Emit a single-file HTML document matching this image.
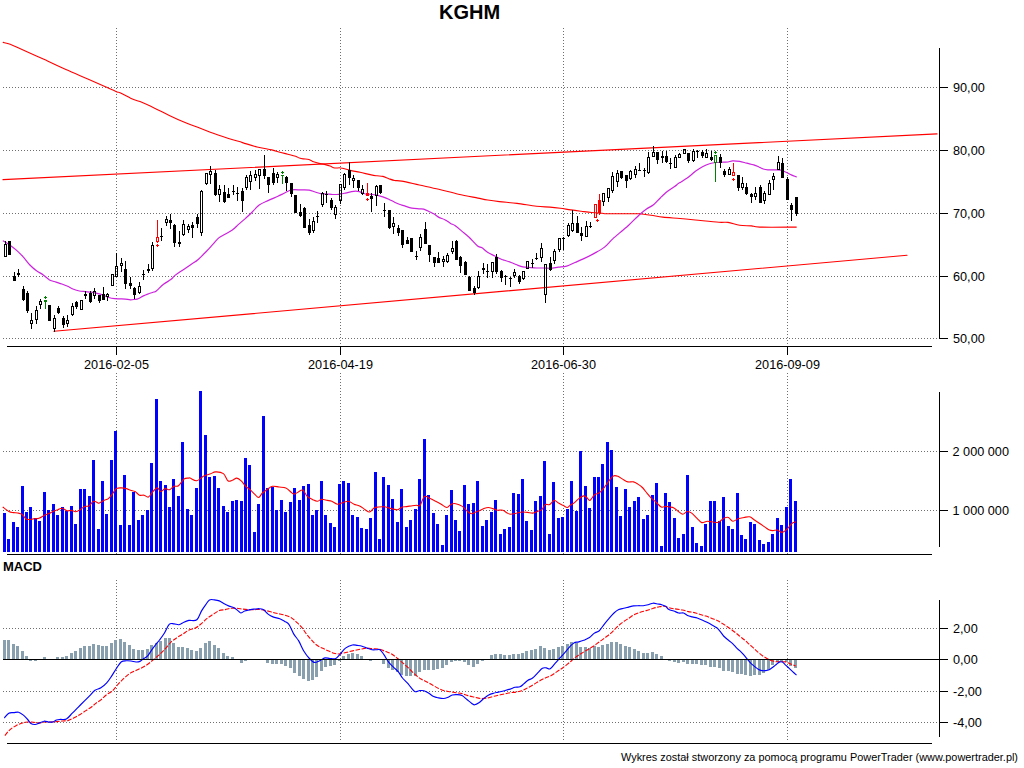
<!DOCTYPE html>
<html><head><meta charset="utf-8"><title>KGHM</title>
<style>html,body{margin:0;padding:0;background:#fff;width:1024px;height:768px;overflow:hidden}</style>
</head><body>
<svg width="1024" height="768" viewBox="0 0 1024 768" style="position:absolute;left:0;top:0">
<rect width="1024" height="768" fill="#fff"/>
<g shape-rendering="crispEdges">
<line x1="3" y1="87.5" x2="938" y2="87.5" stroke="#6e6e6e" stroke-width="1" stroke-dasharray="1 2"/>
<line x1="3" y1="150.5" x2="938" y2="150.5" stroke="#6e6e6e" stroke-width="1" stroke-dasharray="1 2"/>
<line x1="3" y1="213.5" x2="938" y2="213.5" stroke="#6e6e6e" stroke-width="1" stroke-dasharray="1 2"/>
<line x1="3" y1="276.5" x2="938" y2="276.5" stroke="#6e6e6e" stroke-width="1" stroke-dasharray="1 2"/>
<line x1="3" y1="338.5" x2="938" y2="338.5" stroke="#6e6e6e" stroke-width="1" stroke-dasharray="1 2"/>
<line x1="116.5" y1="28" x2="116.5" y2="346" stroke="#6e6e6e" stroke-width="1" stroke-dasharray="1 2"/>
<line x1="116.5" y1="373" x2="116.5" y2="554" stroke="#6e6e6e" stroke-width="1" stroke-dasharray="1 2"/>
<line x1="340.5" y1="28" x2="340.5" y2="346" stroke="#6e6e6e" stroke-width="1" stroke-dasharray="1 2"/>
<line x1="340.5" y1="373" x2="340.5" y2="554" stroke="#6e6e6e" stroke-width="1" stroke-dasharray="1 2"/>
<line x1="563.5" y1="28" x2="563.5" y2="346" stroke="#6e6e6e" stroke-width="1" stroke-dasharray="1 2"/>
<line x1="563.5" y1="373" x2="563.5" y2="554" stroke="#6e6e6e" stroke-width="1" stroke-dasharray="1 2"/>
<line x1="787.5" y1="28" x2="787.5" y2="346" stroke="#6e6e6e" stroke-width="1" stroke-dasharray="1 2"/>
<line x1="787.5" y1="373" x2="787.5" y2="554" stroke="#6e6e6e" stroke-width="1" stroke-dasharray="1 2"/>
<line x1="3" y1="451.5" x2="938" y2="451.5" stroke="#6e6e6e" stroke-width="1" stroke-dasharray="1 2"/>
<line x1="3" y1="510.5" x2="938" y2="510.5" stroke="#6e6e6e" stroke-width="1" stroke-dasharray="1 2"/>
<line x1="116.5" y1="580" x2="116.5" y2="741" stroke="#6e6e6e" stroke-width="1" stroke-dasharray="1 2"/>
<line x1="340.5" y1="580" x2="340.5" y2="741" stroke="#6e6e6e" stroke-width="1" stroke-dasharray="1 2"/>
<line x1="563.5" y1="580" x2="563.5" y2="741" stroke="#6e6e6e" stroke-width="1" stroke-dasharray="1 2"/>
<line x1="787.5" y1="580" x2="787.5" y2="741" stroke="#6e6e6e" stroke-width="1" stroke-dasharray="1 2"/>
<line x1="3" y1="628.5" x2="938" y2="628.5" stroke="#6e6e6e" stroke-width="1" stroke-dasharray="1 2"/>
<line x1="3" y1="691.5" x2="938" y2="691.5" stroke="#6e6e6e" stroke-width="1" stroke-dasharray="1 2"/>
<line x1="3" y1="722.5" x2="938" y2="722.5" stroke="#6e6e6e" stroke-width="1" stroke-dasharray="1 2"/>
</g>
<g fill="none" stroke-linecap="round">
<path d="M3.20,42.40 C4.37,42.72 7.07,43.12 10.20,44.30 C13.33,45.48 16.38,47.00 22.00,49.50 C27.62,52.00 36.58,55.97 43.90,59.30 C51.22,62.63 58.58,66.22 65.90,69.50 C73.22,72.78 81.22,76.12 87.80,79.00 C94.38,81.88 100.52,84.65 105.40,86.80 C110.28,88.95 114.67,90.92 117.10,91.90 C119.53,92.88 117.55,91.55 120.00,92.70 C122.45,93.85 128.47,97.32 131.80,98.80 C135.13,100.28 136.20,100.03 140.00,101.60 C143.80,103.17 149.72,105.88 154.60,108.20 C159.48,110.52 164.42,113.18 169.30,115.50 C174.18,117.82 179.52,120.27 183.90,122.10 C188.28,123.93 191.20,124.80 195.60,126.50 C200.00,128.20 204.93,130.35 210.30,132.30 C215.67,134.25 222.43,136.48 227.80,138.20 C233.17,139.92 237.62,141.13 242.50,142.60 C247.38,144.07 252.22,145.78 257.10,147.00 C261.98,148.22 267.98,149.03 271.80,149.90 C275.62,150.77 277.33,151.48 280.00,152.20 C282.67,152.92 285.20,153.52 287.80,154.20 C290.40,154.88 293.65,155.65 295.60,156.30 C297.55,156.95 298.20,157.67 299.50,158.10 C300.80,158.53 301.83,158.67 303.40,158.90 C304.97,159.13 307.20,159.02 308.90,159.50 C310.60,159.98 311.92,161.15 313.60,161.80 C315.28,162.45 317.18,162.97 319.00,163.40 C320.82,163.83 322.67,163.95 324.50,164.40 C326.33,164.85 328.30,165.50 330.00,166.10 C331.70,166.70 333.13,167.72 334.70,168.00 C336.27,168.28 338.10,167.75 339.40,167.80 C340.70,167.85 340.68,167.87 342.50,168.30 C344.32,168.73 347.38,169.73 350.30,170.40 C353.22,171.07 356.52,171.55 360.00,172.30 C363.48,173.05 368.37,174.32 371.20,174.90 C374.03,175.48 375.05,175.55 377.00,175.80 C378.95,176.05 380.93,175.92 382.90,176.40 C384.87,176.88 386.85,178.02 388.80,178.70 C390.75,179.38 392.45,180.10 394.60,180.50 C396.75,180.90 397.58,180.35 401.70,181.10 C405.82,181.85 413.12,183.63 419.30,185.00 C425.48,186.37 432.28,187.77 438.80,189.30 C445.32,190.83 451.88,192.73 458.40,194.20 C464.92,195.67 473.02,197.13 477.90,198.10 C482.78,199.07 484.12,199.42 487.70,200.00 C491.28,200.58 494.52,201.03 499.40,201.60 C504.28,202.17 510.82,202.62 517.00,203.40 C523.18,204.18 531.00,205.68 536.50,206.30 C542.00,206.92 546.02,206.77 550.00,207.10 C553.98,207.43 556.93,207.83 560.40,208.30 C563.87,208.77 567.32,209.41 570.80,209.90 C574.27,210.39 577.77,210.82 581.25,211.25 C584.73,211.68 588.23,212.16 591.70,212.50 C595.18,212.84 599.50,213.09 602.10,213.30 C604.70,213.51 602.10,213.68 607.30,213.75 C612.50,213.82 627.95,213.74 633.30,213.75 C638.65,213.76 636.42,213.54 639.40,213.80 C642.38,214.06 647.28,214.75 651.20,215.30 C655.12,215.85 658.10,216.57 662.90,217.10 C667.70,217.63 674.58,218.02 680.00,218.50 C685.42,218.98 688.92,219.37 695.40,220.00 C701.88,220.63 713.47,221.90 718.90,222.30 C724.33,222.70 724.53,221.90 728.00,222.40 C731.47,222.90 735.80,224.72 739.70,225.30 C743.60,225.88 748.07,225.60 751.40,225.90 C754.73,226.20 752.22,226.90 759.70,227.10 C767.18,227.30 790.20,227.10 796.30,227.10" fill="none" stroke="#ff0000" stroke-width="1.1" stroke-linejoin="round" />
<line x1="3" y1="179.6" x2="937" y2="133.9" stroke="#ff0000" stroke-width="1.15"/>
<line x1="54" y1="331.3" x2="907" y2="255.3" stroke="#ff0000" stroke-width="1.15"/>
<path d="M3.30,240.90 C4.48,241.65 8.13,243.78 10.40,245.40 C12.67,247.02 14.73,248.65 16.90,250.60 C19.07,252.55 21.23,254.70 23.40,257.10 C25.57,259.50 27.72,262.72 29.90,265.00 C32.08,267.28 34.32,269.18 36.50,270.80 C38.68,272.42 40.83,273.18 43.00,274.70 C45.17,276.22 47.33,278.67 49.50,279.90 C51.67,281.13 53.93,281.42 56.00,282.10 C58.07,282.78 59.95,283.30 61.90,284.00 C63.85,284.70 65.75,285.42 67.70,286.30 C69.65,287.18 71.65,288.52 73.60,289.30 C75.55,290.08 77.45,290.62 79.40,291.00 C81.35,291.38 83.33,291.40 85.30,291.60 C87.27,291.80 89.25,291.90 91.20,292.20 C93.15,292.50 95.05,292.92 97.00,293.40 C98.95,293.88 100.93,294.42 102.90,295.10 C104.87,295.78 106.85,296.90 108.80,297.50 C110.75,298.10 112.73,298.47 114.60,298.70 C116.47,298.93 118.23,298.83 120.00,298.90 C121.77,298.97 123.47,298.95 125.20,299.10 C126.93,299.25 128.83,299.75 130.40,299.80 C131.97,299.85 133.30,299.58 134.60,299.40 C135.90,299.22 136.73,299.28 138.20,298.70 C139.67,298.12 141.67,296.72 143.40,295.90 C145.13,295.08 146.85,294.45 148.60,293.80 C150.35,293.15 152.62,292.47 153.90,292.00 C155.18,291.53 154.65,292.28 156.25,291.00 C157.85,289.72 161.07,286.20 163.50,284.30 C165.93,282.40 168.88,281.08 170.80,279.60 C172.72,278.12 172.92,277.05 175.00,275.40 C177.08,273.75 180.52,271.60 183.30,269.70 C186.08,267.80 189.27,265.65 191.70,264.00 C194.13,262.35 195.47,261.88 197.90,259.80 C200.33,257.72 203.82,254.02 206.25,251.50 C208.68,248.98 210.42,246.97 212.50,244.70 C214.58,242.43 216.67,239.63 218.75,237.90 C220.83,236.17 222.74,235.60 225.00,234.30 C227.26,233.00 230.05,231.75 232.30,230.10 C234.55,228.45 236.25,226.40 238.50,224.40 C240.75,222.40 243.72,219.95 245.80,218.10 C247.88,216.25 248.77,215.47 251.00,213.30 C253.23,211.13 256.28,207.25 259.20,205.10 C262.12,202.95 265.38,201.87 268.50,200.40 C271.62,198.93 275.15,197.57 277.90,196.30 C280.65,195.03 282.70,193.87 285.00,192.80 C287.30,191.73 289.02,190.38 291.70,189.90 C294.38,189.42 298.17,189.87 301.10,189.90 C304.03,189.93 306.95,189.75 309.30,190.10 C311.65,190.45 313.25,191.42 315.20,192.00 C317.15,192.58 319.05,193.27 321.00,193.60 C322.95,193.93 324.93,193.85 326.90,194.00 C328.87,194.15 330.85,194.45 332.80,194.50 C334.75,194.55 336.50,194.53 338.60,194.30 C340.70,194.07 342.90,193.60 345.40,193.10 C347.90,192.60 351.27,191.55 353.60,191.30 C355.93,191.05 357.45,191.15 359.40,191.60 C361.35,192.05 363.33,193.55 365.30,194.00 C367.27,194.45 369.25,194.12 371.20,194.30 C373.15,194.48 375.05,194.67 377.00,195.10 C378.95,195.53 380.93,196.22 382.90,196.90 C384.87,197.58 386.85,198.32 388.80,199.20 C390.75,200.08 392.73,201.32 394.60,202.20 C396.47,203.08 398.48,203.93 400.00,204.50 C401.52,205.07 401.72,204.98 403.70,205.60 C405.68,206.22 409.35,207.67 411.90,208.20 C414.45,208.73 417.03,208.65 419.00,208.80 C420.97,208.95 421.95,208.62 423.70,209.10 C425.45,209.58 427.75,210.87 429.50,211.70 C431.25,212.53 432.63,213.15 434.20,214.10 C435.77,215.05 437.13,216.47 438.90,217.40 C440.67,218.33 442.85,218.70 444.80,219.70 C446.75,220.70 448.90,222.42 450.60,223.40 C452.30,224.38 453.08,224.27 455.00,225.60 C456.92,226.93 459.75,229.45 462.10,231.40 C464.45,233.35 466.57,234.92 469.10,237.30 C471.63,239.68 475.15,243.95 477.30,245.70 C479.45,247.45 480.23,246.67 482.00,247.80 C483.77,248.93 485.75,251.13 487.90,252.50 C490.05,253.87 492.57,254.83 494.90,256.00 C497.23,257.17 500.38,258.82 501.90,259.50 C503.42,260.18 502.48,259.60 504.00,260.10 C505.52,260.60 508.65,261.62 511.00,262.50 C513.35,263.38 516.13,264.68 518.10,265.40 C520.07,266.12 520.85,266.45 522.80,266.80 C524.75,267.15 527.47,267.30 529.80,267.50 C532.13,267.70 534.45,267.92 536.80,268.00 C539.15,268.08 541.62,267.96 543.90,268.00 C546.17,268.04 548.05,268.38 550.45,268.25 C552.85,268.12 555.59,267.56 558.30,267.20 C561.01,266.84 563.92,266.88 566.70,266.10 C569.48,265.32 572.23,263.70 575.00,262.50 C577.77,261.30 580.17,260.38 583.30,258.90 C586.42,257.42 590.27,255.52 593.75,253.60 C597.23,251.68 601.08,249.82 604.20,247.40 C607.33,244.98 609.38,241.97 612.50,239.10 C615.62,236.23 620.17,232.55 622.90,230.20 C625.63,227.85 626.15,227.58 628.90,225.00 C631.65,222.42 636.47,217.38 639.40,214.70 C642.33,212.02 644.15,210.55 646.50,208.90 C648.85,207.25 651.17,206.67 653.50,204.80 C655.83,202.93 658.15,199.95 660.50,197.70 C662.85,195.45 665.25,193.15 667.60,191.30 C669.95,189.45 672.70,187.97 674.60,186.60 C676.50,185.23 676.90,184.52 679.00,183.10 C681.10,181.68 684.47,180.07 687.20,178.10 C689.93,176.13 692.85,173.20 695.40,171.30 C697.95,169.40 700.15,167.97 702.50,166.70 C704.85,165.43 707.17,164.40 709.50,163.70 C711.83,163.00 714.15,162.75 716.50,162.50 C718.85,162.25 721.68,162.28 723.60,162.20 C725.52,162.12 726.48,162.23 728.00,162.00 C729.52,161.77 730.75,160.90 732.70,160.80 C734.65,160.70 737.35,161.00 739.70,161.40 C742.05,161.80 744.45,162.62 746.80,163.20 C749.15,163.78 751.85,164.32 753.80,164.90 C755.75,165.48 756.93,166.02 758.50,166.70 C760.07,167.38 761.63,168.47 763.20,169.00 C764.77,169.53 765.95,169.75 767.90,169.90 C769.85,170.05 772.75,169.85 774.90,169.90 C777.05,169.95 778.85,169.77 780.80,170.20 C782.75,170.63 784.85,171.72 786.60,172.50 C788.35,173.28 789.68,174.17 791.30,174.90 C792.92,175.63 795.47,176.57 796.30,176.90" fill="none" stroke="#cc22dd" stroke-width="1.2" stroke-linejoin="round" />
</g>
<g shape-rendering="crispEdges">
<rect x="5" y="241" width="1" height="3" fill="#000"/>
<rect x="4" y="244" width="3" height="1" fill="#000"/>
<rect x="4" y="256" width="3" height="1" fill="#000"/>
<rect x="4" y="244" width="1" height="13" fill="#000"/>
<rect x="6" y="244" width="1" height="13" fill="#000"/>
<rect x="8" y="241" width="3" height="14" fill="#000"/>
<rect x="14" y="272" width="1" height="4" fill="#000"/>
<rect x="13" y="276" width="3" height="5" fill="#000"/>
<rect x="18" y="269" width="1" height="4" fill="#000"/>
<rect x="18" y="275" width="1" height="2" fill="#000"/>
<rect x="17" y="273" width="3" height="2" fill="#000"/>
<rect x="23" y="286" width="1" height="3" fill="#000"/>
<rect x="23" y="300" width="1" height="1" fill="#000"/>
<rect x="22" y="289" width="3" height="11" fill="#000"/>
<rect x="27" y="291" width="1" height="2" fill="#000"/>
<rect x="27" y="311" width="1" height="2" fill="#000"/>
<rect x="26" y="293" width="3" height="18" fill="#000"/>
<rect x="31" y="313" width="1" height="7" fill="#000"/>
<rect x="31" y="324" width="1" height="5" fill="#000"/>
<rect x="30" y="320" width="3" height="1" fill="#000"/>
<rect x="30" y="323" width="3" height="1" fill="#000"/>
<rect x="30" y="320" width="1" height="4" fill="#000"/>
<rect x="32" y="320" width="1" height="4" fill="#000"/>
<rect x="36" y="306" width="1" height="4" fill="#000"/>
<rect x="36" y="320" width="1" height="4" fill="#000"/>
<rect x="35" y="310" width="3" height="1" fill="#000"/>
<rect x="35" y="319" width="3" height="1" fill="#000"/>
<rect x="35" y="310" width="1" height="10" fill="#000"/>
<rect x="37" y="310" width="1" height="10" fill="#000"/>
<rect x="40" y="299" width="1" height="2" fill="#000"/>
<rect x="40" y="305" width="1" height="4" fill="#000"/>
<rect x="39" y="301" width="3" height="1" fill="#000"/>
<rect x="39" y="304" width="3" height="1" fill="#000"/>
<rect x="39" y="301" width="1" height="4" fill="#000"/>
<rect x="41" y="301" width="1" height="4" fill="#000"/>
<rect x="45" y="302" width="1" height="7" fill="#008000"/>
<rect x="44" y="300" width="3" height="2" fill="#008000"/>
<rect x="48" y="305" width="3" height="16" fill="#000"/>
<rect x="54" y="315" width="1" height="3" fill="#000"/>
<rect x="54" y="329" width="1" height="3" fill="#000"/>
<rect x="53" y="318" width="3" height="1" fill="#000"/>
<rect x="53" y="328" width="3" height="1" fill="#000"/>
<rect x="53" y="318" width="1" height="11" fill="#000"/>
<rect x="55" y="318" width="1" height="11" fill="#000"/>
<rect x="58" y="306" width="1" height="2" fill="#000"/>
<rect x="58" y="313" width="1" height="1" fill="#000"/>
<rect x="57" y="308" width="3" height="5" fill="#000"/>
<rect x="63" y="316" width="1" height="2" fill="#000"/>
<rect x="63" y="325" width="1" height="3" fill="#000"/>
<rect x="62" y="318" width="3" height="7" fill="#000"/>
<rect x="67" y="315" width="1" height="5" fill="#000"/>
<rect x="67" y="324" width="1" height="3" fill="#000"/>
<rect x="66" y="320" width="3" height="1" fill="#000"/>
<rect x="66" y="323" width="3" height="1" fill="#000"/>
<rect x="66" y="320" width="1" height="4" fill="#000"/>
<rect x="68" y="320" width="1" height="4" fill="#000"/>
<rect x="72" y="303" width="1" height="3" fill="#000"/>
<rect x="72" y="315" width="1" height="1" fill="#000"/>
<rect x="71" y="306" width="3" height="1" fill="#000"/>
<rect x="71" y="314" width="3" height="1" fill="#000"/>
<rect x="71" y="306" width="1" height="9" fill="#000"/>
<rect x="73" y="306" width="1" height="9" fill="#000"/>
<rect x="76" y="301" width="1" height="1" fill="#000"/>
<rect x="76" y="307" width="1" height="2" fill="#000"/>
<rect x="75" y="302" width="3" height="5" fill="#000"/>
<rect x="80" y="300" width="3" height="1" fill="#000"/>
<rect x="80" y="309" width="3" height="1" fill="#000"/>
<rect x="80" y="300" width="1" height="10" fill="#000"/>
<rect x="82" y="300" width="1" height="10" fill="#000"/>
<rect x="85" y="291" width="1" height="3" fill="#000"/>
<rect x="85" y="296" width="1" height="3" fill="#000"/>
<rect x="84" y="294" width="3" height="2" fill="#000"/>
<rect x="90" y="291" width="1" height="2" fill="#000"/>
<rect x="90" y="302" width="1" height="1" fill="#000"/>
<rect x="89" y="293" width="3" height="9" fill="#000"/>
<rect x="94" y="288" width="1" height="3" fill="#000"/>
<rect x="94" y="296" width="1" height="3" fill="#000"/>
<rect x="93" y="291" width="3" height="1" fill="#000"/>
<rect x="93" y="295" width="3" height="1" fill="#000"/>
<rect x="93" y="291" width="1" height="5" fill="#000"/>
<rect x="95" y="291" width="1" height="5" fill="#000"/>
<rect x="99" y="301" width="1" height="2" fill="#000"/>
<rect x="98" y="295" width="3" height="6" fill="#000"/>
<rect x="103" y="287" width="1" height="7" fill="#000"/>
<rect x="102" y="294" width="3" height="6" fill="#000"/>
<rect x="107" y="293" width="1" height="1" fill="#000"/>
<rect x="107" y="297" width="1" height="4" fill="#000"/>
<rect x="106" y="294" width="3" height="1" fill="#000"/>
<rect x="106" y="296" width="3" height="1" fill="#000"/>
<rect x="106" y="294" width="1" height="3" fill="#000"/>
<rect x="108" y="294" width="1" height="3" fill="#000"/>
<rect x="111" y="274" width="3" height="1" fill="#000"/>
<rect x="111" y="285" width="3" height="1" fill="#000"/>
<rect x="111" y="274" width="1" height="12" fill="#000"/>
<rect x="113" y="274" width="1" height="12" fill="#000"/>
<rect x="116" y="253" width="1" height="13" fill="#000"/>
<rect x="115" y="266" width="3" height="1" fill="#000"/>
<rect x="115" y="276" width="3" height="1" fill="#000"/>
<rect x="115" y="266" width="1" height="11" fill="#000"/>
<rect x="117" y="266" width="1" height="11" fill="#000"/>
<rect x="121" y="258" width="1" height="5" fill="#000"/>
<rect x="121" y="266" width="1" height="6" fill="#000"/>
<rect x="120" y="263" width="3" height="1" fill="#000"/>
<rect x="120" y="265" width="3" height="1" fill="#000"/>
<rect x="120" y="263" width="1" height="3" fill="#000"/>
<rect x="122" y="263" width="1" height="3" fill="#000"/>
<rect x="125" y="261" width="1" height="8" fill="#000"/>
<rect x="125" y="284" width="1" height="5" fill="#000"/>
<rect x="124" y="269" width="3" height="15" fill="#000"/>
<rect x="130" y="277" width="1" height="6" fill="#000"/>
<rect x="130" y="286" width="1" height="3" fill="#000"/>
<rect x="129" y="283" width="3" height="3" fill="#000"/>
<rect x="134" y="287" width="1" height="1" fill="#000"/>
<rect x="134" y="295" width="1" height="4" fill="#000"/>
<rect x="133" y="288" width="3" height="7" fill="#000"/>
<rect x="139" y="282" width="1" height="4" fill="#000"/>
<rect x="139" y="293" width="1" height="1" fill="#000"/>
<rect x="138" y="286" width="3" height="1" fill="#000"/>
<rect x="138" y="292" width="3" height="1" fill="#000"/>
<rect x="138" y="286" width="1" height="7" fill="#000"/>
<rect x="140" y="286" width="1" height="7" fill="#000"/>
<rect x="143" y="270" width="1" height="4" fill="#000"/>
<rect x="143" y="275" width="1" height="5" fill="#000"/>
<rect x="142" y="274" width="3" height="1" fill="#000"/>
<rect x="148" y="264" width="1" height="5" fill="#000"/>
<rect x="148" y="271" width="1" height="2" fill="#000"/>
<rect x="147" y="269" width="3" height="2" fill="#000"/>
<rect x="152" y="242" width="1" height="3" fill="#000"/>
<rect x="152" y="269" width="1" height="2" fill="#000"/>
<rect x="151" y="245" width="3" height="1" fill="#000"/>
<rect x="151" y="268" width="3" height="1" fill="#000"/>
<rect x="151" y="245" width="1" height="24" fill="#000"/>
<rect x="153" y="245" width="1" height="24" fill="#000"/>
<rect x="157" y="220" width="1" height="17" fill="#ff0000"/>
<rect x="157" y="242" width="1" height="1" fill="#ff0000"/>
<rect x="156" y="237" width="3" height="1" fill="#ff0000"/>
<rect x="156" y="241" width="3" height="1" fill="#ff0000"/>
<rect x="156" y="237" width="1" height="5" fill="#ff0000"/>
<rect x="158" y="237" width="1" height="5" fill="#ff0000"/>
<rect x="161" y="228" width="1" height="8" fill="#000"/>
<rect x="161" y="237" width="1" height="4" fill="#000"/>
<rect x="160" y="236" width="3" height="1" fill="#000"/>
<rect x="166" y="216" width="1" height="3" fill="#000"/>
<rect x="166" y="223" width="1" height="3" fill="#000"/>
<rect x="165" y="219" width="3" height="1" fill="#000"/>
<rect x="165" y="222" width="3" height="1" fill="#000"/>
<rect x="165" y="219" width="1" height="4" fill="#000"/>
<rect x="167" y="219" width="1" height="4" fill="#000"/>
<rect x="170" y="214" width="1" height="6" fill="#000"/>
<rect x="170" y="223" width="1" height="6" fill="#000"/>
<rect x="169" y="220" width="3" height="3" fill="#000"/>
<rect x="174" y="224" width="1" height="1" fill="#000"/>
<rect x="174" y="243" width="1" height="4" fill="#000"/>
<rect x="173" y="225" width="3" height="18" fill="#000"/>
<rect x="179" y="231" width="1" height="11" fill="#000"/>
<rect x="179" y="244" width="1" height="3" fill="#000"/>
<rect x="178" y="242" width="3" height="2" fill="#000"/>
<rect x="183" y="220" width="1" height="4" fill="#000"/>
<rect x="183" y="235" width="1" height="1" fill="#000"/>
<rect x="182" y="224" width="3" height="1" fill="#000"/>
<rect x="182" y="234" width="3" height="1" fill="#000"/>
<rect x="182" y="224" width="1" height="11" fill="#000"/>
<rect x="184" y="224" width="1" height="11" fill="#000"/>
<rect x="188" y="224" width="1" height="2" fill="#000"/>
<rect x="188" y="230" width="1" height="3" fill="#000"/>
<rect x="187" y="226" width="3" height="1" fill="#000"/>
<rect x="187" y="229" width="3" height="1" fill="#000"/>
<rect x="187" y="226" width="1" height="4" fill="#000"/>
<rect x="189" y="226" width="1" height="4" fill="#000"/>
<rect x="192" y="222" width="1" height="3" fill="#000"/>
<rect x="192" y="228" width="1" height="10" fill="#000"/>
<rect x="191" y="225" width="3" height="3" fill="#000"/>
<rect x="197" y="214" width="1" height="3" fill="#000"/>
<rect x="197" y="224" width="1" height="4" fill="#000"/>
<rect x="196" y="217" width="3" height="7" fill="#000"/>
<rect x="201" y="190" width="1" height="1" fill="#000"/>
<rect x="201" y="233" width="1" height="3" fill="#000"/>
<rect x="200" y="191" width="3" height="1" fill="#000"/>
<rect x="200" y="232" width="3" height="1" fill="#000"/>
<rect x="200" y="191" width="1" height="42" fill="#000"/>
<rect x="202" y="191" width="1" height="42" fill="#000"/>
<rect x="206" y="184" width="1" height="1" fill="#000"/>
<rect x="205" y="173" width="3" height="1" fill="#000"/>
<rect x="205" y="183" width="3" height="1" fill="#000"/>
<rect x="205" y="173" width="1" height="11" fill="#000"/>
<rect x="207" y="173" width="1" height="11" fill="#000"/>
<rect x="210" y="166" width="1" height="5" fill="#000"/>
<rect x="210" y="175" width="1" height="9" fill="#000"/>
<rect x="209" y="171" width="3" height="1" fill="#000"/>
<rect x="209" y="174" width="3" height="1" fill="#000"/>
<rect x="209" y="171" width="1" height="4" fill="#000"/>
<rect x="211" y="171" width="1" height="4" fill="#000"/>
<rect x="215" y="170" width="1" height="3" fill="#000"/>
<rect x="215" y="195" width="1" height="1" fill="#000"/>
<rect x="214" y="173" width="3" height="22" fill="#000"/>
<rect x="219" y="185" width="1" height="4" fill="#000"/>
<rect x="219" y="195" width="1" height="7" fill="#000"/>
<rect x="218" y="189" width="3" height="1" fill="#000"/>
<rect x="218" y="194" width="3" height="1" fill="#000"/>
<rect x="218" y="189" width="1" height="6" fill="#000"/>
<rect x="220" y="189" width="1" height="6" fill="#000"/>
<rect x="224" y="185" width="1" height="7" fill="#000"/>
<rect x="224" y="202" width="1" height="1" fill="#000"/>
<rect x="223" y="192" width="3" height="10" fill="#000"/>
<rect x="228" y="188" width="1" height="6" fill="#000"/>
<rect x="227" y="194" width="3" height="4" fill="#000"/>
<rect x="233" y="185" width="1" height="6" fill="#000"/>
<rect x="233" y="192" width="1" height="3" fill="#000"/>
<rect x="232" y="191" width="3" height="1" fill="#000"/>
<rect x="237" y="187" width="1" height="6" fill="#000"/>
<rect x="237" y="194" width="1" height="7" fill="#000"/>
<rect x="236" y="193" width="3" height="1" fill="#000"/>
<rect x="242" y="188" width="1" height="3" fill="#000"/>
<rect x="242" y="201" width="1" height="11" fill="#000"/>
<rect x="241" y="191" width="3" height="10" fill="#000"/>
<rect x="246" y="175" width="1" height="2" fill="#000"/>
<rect x="246" y="188" width="1" height="2" fill="#000"/>
<rect x="245" y="177" width="3" height="1" fill="#000"/>
<rect x="245" y="187" width="3" height="1" fill="#000"/>
<rect x="245" y="177" width="1" height="11" fill="#000"/>
<rect x="247" y="177" width="1" height="11" fill="#000"/>
<rect x="250" y="171" width="1" height="4" fill="#000"/>
<rect x="250" y="182" width="1" height="8" fill="#000"/>
<rect x="249" y="175" width="3" height="1" fill="#000"/>
<rect x="249" y="181" width="3" height="1" fill="#000"/>
<rect x="249" y="175" width="1" height="7" fill="#000"/>
<rect x="251" y="175" width="1" height="7" fill="#000"/>
<rect x="255" y="170" width="1" height="4" fill="#000"/>
<rect x="255" y="178" width="1" height="3" fill="#000"/>
<rect x="254" y="174" width="3" height="1" fill="#000"/>
<rect x="254" y="177" width="3" height="1" fill="#000"/>
<rect x="254" y="174" width="1" height="4" fill="#000"/>
<rect x="256" y="174" width="1" height="4" fill="#000"/>
<rect x="259" y="176" width="1" height="13" fill="#000"/>
<rect x="258" y="169" width="3" height="1" fill="#000"/>
<rect x="258" y="175" width="3" height="1" fill="#000"/>
<rect x="258" y="169" width="1" height="7" fill="#000"/>
<rect x="260" y="169" width="1" height="7" fill="#000"/>
<rect x="264" y="155" width="1" height="14" fill="#000"/>
<rect x="264" y="176" width="1" height="3" fill="#000"/>
<rect x="263" y="169" width="3" height="7" fill="#000"/>
<rect x="268" y="185" width="1" height="8" fill="#000"/>
<rect x="267" y="177" width="3" height="8" fill="#000"/>
<rect x="273" y="168" width="1" height="5" fill="#000"/>
<rect x="273" y="183" width="1" height="2" fill="#000"/>
<rect x="272" y="173" width="3" height="10" fill="#000"/>
<rect x="277" y="172" width="1" height="2" fill="#000"/>
<rect x="277" y="178" width="1" height="5" fill="#000"/>
<rect x="276" y="174" width="3" height="1" fill="#000"/>
<rect x="276" y="177" width="3" height="1" fill="#000"/>
<rect x="276" y="174" width="1" height="4" fill="#000"/>
<rect x="278" y="174" width="1" height="4" fill="#000"/>
<rect x="282" y="176" width="1" height="8" fill="#008000"/>
<rect x="281" y="175" width="3" height="1" fill="#008000"/>
<rect x="286" y="176" width="1" height="1" fill="#000"/>
<rect x="286" y="183" width="1" height="8" fill="#000"/>
<rect x="285" y="177" width="3" height="6" fill="#000"/>
<rect x="291" y="194" width="1" height="3" fill="#000"/>
<rect x="290" y="183" width="3" height="11" fill="#000"/>
<rect x="294" y="195" width="3" height="18" fill="#000"/>
<rect x="300" y="204" width="1" height="8" fill="#000"/>
<rect x="300" y="216" width="1" height="1" fill="#000"/>
<rect x="299" y="212" width="3" height="4" fill="#000"/>
<rect x="304" y="207" width="1" height="1" fill="#000"/>
<rect x="303" y="208" width="3" height="20" fill="#000"/>
<rect x="309" y="219" width="1" height="6" fill="#000"/>
<rect x="309" y="233" width="1" height="2" fill="#000"/>
<rect x="308" y="225" width="3" height="8" fill="#000"/>
<rect x="313" y="217" width="1" height="4" fill="#000"/>
<rect x="313" y="231" width="1" height="2" fill="#000"/>
<rect x="312" y="221" width="3" height="1" fill="#000"/>
<rect x="312" y="230" width="3" height="1" fill="#000"/>
<rect x="312" y="221" width="1" height="10" fill="#000"/>
<rect x="314" y="221" width="1" height="10" fill="#000"/>
<rect x="317" y="211" width="1" height="5" fill="#000"/>
<rect x="317" y="217" width="1" height="6" fill="#000"/>
<rect x="316" y="216" width="3" height="1" fill="#000"/>
<rect x="322" y="192" width="1" height="1" fill="#000"/>
<rect x="322" y="205" width="1" height="2" fill="#000"/>
<rect x="321" y="193" width="3" height="1" fill="#000"/>
<rect x="321" y="204" width="3" height="1" fill="#000"/>
<rect x="321" y="193" width="1" height="12" fill="#000"/>
<rect x="323" y="193" width="1" height="12" fill="#000"/>
<rect x="326" y="191" width="1" height="3" fill="#000"/>
<rect x="326" y="195" width="1" height="8" fill="#000"/>
<rect x="325" y="194" width="3" height="1" fill="#000"/>
<rect x="331" y="198" width="1" height="2" fill="#000"/>
<rect x="331" y="208" width="1" height="2" fill="#000"/>
<rect x="330" y="200" width="3" height="8" fill="#000"/>
<rect x="335" y="205" width="1" height="2" fill="#000"/>
<rect x="335" y="215" width="1" height="4" fill="#000"/>
<rect x="334" y="207" width="3" height="1" fill="#000"/>
<rect x="334" y="214" width="3" height="1" fill="#000"/>
<rect x="334" y="207" width="1" height="8" fill="#000"/>
<rect x="336" y="207" width="1" height="8" fill="#000"/>
<rect x="340" y="201" width="1" height="3" fill="#000"/>
<rect x="339" y="184" width="3" height="1" fill="#000"/>
<rect x="339" y="200" width="3" height="1" fill="#000"/>
<rect x="339" y="184" width="1" height="17" fill="#000"/>
<rect x="341" y="184" width="1" height="17" fill="#000"/>
<rect x="344" y="173" width="1" height="1" fill="#000"/>
<rect x="344" y="188" width="1" height="2" fill="#000"/>
<rect x="343" y="174" width="3" height="1" fill="#000"/>
<rect x="343" y="187" width="3" height="1" fill="#000"/>
<rect x="343" y="174" width="1" height="14" fill="#000"/>
<rect x="345" y="174" width="1" height="14" fill="#000"/>
<rect x="349" y="162" width="1" height="8" fill="#000"/>
<rect x="349" y="178" width="1" height="7" fill="#000"/>
<rect x="348" y="170" width="3" height="8" fill="#000"/>
<rect x="353" y="175" width="1" height="3" fill="#000"/>
<rect x="353" y="181" width="1" height="7" fill="#000"/>
<rect x="352" y="178" width="3" height="1" fill="#000"/>
<rect x="352" y="180" width="3" height="1" fill="#000"/>
<rect x="352" y="178" width="1" height="3" fill="#000"/>
<rect x="354" y="178" width="1" height="3" fill="#000"/>
<rect x="358" y="188" width="1" height="3" fill="#000"/>
<rect x="357" y="180" width="3" height="8" fill="#000"/>
<rect x="362" y="185" width="1" height="4" fill="#000"/>
<rect x="362" y="194" width="1" height="1" fill="#000"/>
<rect x="361" y="189" width="3" height="1" fill="#000"/>
<rect x="361" y="193" width="3" height="1" fill="#000"/>
<rect x="361" y="189" width="1" height="5" fill="#000"/>
<rect x="363" y="189" width="1" height="5" fill="#000"/>
<rect x="367" y="183" width="1" height="10" fill="#ff0000"/>
<rect x="366" y="193" width="3" height="3" fill="#ff0000"/>
<rect x="371" y="193" width="1" height="3" fill="#000"/>
<rect x="371" y="199" width="1" height="13" fill="#000"/>
<rect x="370" y="196" width="3" height="3" fill="#000"/>
<rect x="376" y="185" width="1" height="1" fill="#000"/>
<rect x="376" y="196" width="1" height="10" fill="#000"/>
<rect x="375" y="186" width="3" height="1" fill="#000"/>
<rect x="375" y="195" width="3" height="1" fill="#000"/>
<rect x="375" y="186" width="1" height="10" fill="#000"/>
<rect x="377" y="186" width="1" height="10" fill="#000"/>
<rect x="380" y="193" width="1" height="1" fill="#000"/>
<rect x="379" y="185" width="3" height="8" fill="#000"/>
<rect x="384" y="203" width="1" height="7" fill="#000"/>
<rect x="384" y="211" width="1" height="6" fill="#000"/>
<rect x="383" y="210" width="3" height="1" fill="#000"/>
<rect x="389" y="228" width="1" height="1" fill="#000"/>
<rect x="388" y="210" width="3" height="18" fill="#000"/>
<rect x="393" y="217" width="1" height="6" fill="#000"/>
<rect x="393" y="227" width="1" height="7" fill="#000"/>
<rect x="392" y="223" width="3" height="1" fill="#000"/>
<rect x="392" y="226" width="3" height="1" fill="#000"/>
<rect x="392" y="223" width="1" height="4" fill="#000"/>
<rect x="394" y="223" width="1" height="4" fill="#000"/>
<rect x="398" y="225" width="1" height="3" fill="#000"/>
<rect x="398" y="233" width="1" height="3" fill="#000"/>
<rect x="397" y="228" width="3" height="5" fill="#000"/>
<rect x="402" y="245" width="1" height="3" fill="#000"/>
<rect x="401" y="230" width="3" height="15" fill="#000"/>
<rect x="407" y="237" width="1" height="3" fill="#000"/>
<rect x="406" y="240" width="3" height="4" fill="#000"/>
<rect x="410" y="238" width="3" height="14" fill="#000"/>
<rect x="416" y="251" width="1" height="5" fill="#000"/>
<rect x="416" y="257" width="1" height="3" fill="#000"/>
<rect x="415" y="256" width="3" height="1" fill="#000"/>
<rect x="420" y="234" width="1" height="3" fill="#000"/>
<rect x="420" y="248" width="1" height="3" fill="#000"/>
<rect x="419" y="237" width="3" height="1" fill="#000"/>
<rect x="419" y="247" width="3" height="1" fill="#000"/>
<rect x="419" y="237" width="1" height="11" fill="#000"/>
<rect x="421" y="237" width="1" height="11" fill="#000"/>
<rect x="425" y="222" width="1" height="7" fill="#000"/>
<rect x="424" y="229" width="3" height="15" fill="#000"/>
<rect x="429" y="255" width="1" height="7" fill="#000"/>
<rect x="428" y="245" width="3" height="10" fill="#000"/>
<rect x="434" y="263" width="1" height="4" fill="#000"/>
<rect x="433" y="257" width="3" height="6" fill="#000"/>
<rect x="438" y="252" width="1" height="6" fill="#000"/>
<rect x="437" y="258" width="3" height="5" fill="#000"/>
<rect x="443" y="256" width="1" height="3" fill="#000"/>
<rect x="443" y="262" width="1" height="5" fill="#000"/>
<rect x="442" y="259" width="3" height="1" fill="#000"/>
<rect x="442" y="261" width="3" height="1" fill="#000"/>
<rect x="442" y="259" width="1" height="3" fill="#000"/>
<rect x="444" y="259" width="1" height="3" fill="#000"/>
<rect x="447" y="253" width="1" height="2" fill="#000"/>
<rect x="447" y="262" width="1" height="1" fill="#000"/>
<rect x="446" y="255" width="3" height="1" fill="#000"/>
<rect x="446" y="261" width="3" height="1" fill="#000"/>
<rect x="446" y="255" width="1" height="7" fill="#000"/>
<rect x="448" y="255" width="1" height="7" fill="#000"/>
<rect x="452" y="241" width="1" height="7" fill="#000"/>
<rect x="452" y="252" width="1" height="2" fill="#000"/>
<rect x="451" y="248" width="3" height="1" fill="#000"/>
<rect x="451" y="251" width="3" height="1" fill="#000"/>
<rect x="451" y="248" width="1" height="4" fill="#000"/>
<rect x="453" y="248" width="1" height="4" fill="#000"/>
<rect x="456" y="240" width="1" height="1" fill="#000"/>
<rect x="455" y="241" width="3" height="19" fill="#000"/>
<rect x="460" y="256" width="1" height="1" fill="#000"/>
<rect x="460" y="266" width="1" height="7" fill="#000"/>
<rect x="459" y="257" width="3" height="9" fill="#000"/>
<rect x="465" y="261" width="1" height="1" fill="#000"/>
<rect x="464" y="262" width="3" height="13" fill="#000"/>
<rect x="469" y="276" width="1" height="1" fill="#000"/>
<rect x="468" y="277" width="3" height="14" fill="#000"/>
<rect x="474" y="286" width="1" height="2" fill="#000"/>
<rect x="474" y="293" width="1" height="2" fill="#000"/>
<rect x="473" y="288" width="3" height="5" fill="#000"/>
<rect x="478" y="271" width="1" height="5" fill="#000"/>
<rect x="478" y="288" width="1" height="1" fill="#000"/>
<rect x="477" y="276" width="3" height="1" fill="#000"/>
<rect x="477" y="287" width="3" height="1" fill="#000"/>
<rect x="477" y="276" width="1" height="12" fill="#000"/>
<rect x="479" y="276" width="1" height="12" fill="#000"/>
<rect x="483" y="263" width="1" height="5" fill="#000"/>
<rect x="483" y="270" width="1" height="4" fill="#000"/>
<rect x="482" y="268" width="3" height="2" fill="#000"/>
<rect x="487" y="264" width="1" height="7" fill="#000"/>
<rect x="487" y="272" width="1" height="6" fill="#000"/>
<rect x="486" y="271" width="3" height="1" fill="#000"/>
<rect x="492" y="272" width="1" height="6" fill="#000"/>
<rect x="491" y="262" width="3" height="1" fill="#000"/>
<rect x="491" y="271" width="3" height="1" fill="#000"/>
<rect x="491" y="262" width="1" height="10" fill="#000"/>
<rect x="493" y="262" width="1" height="10" fill="#000"/>
<rect x="496" y="254" width="1" height="3" fill="#000"/>
<rect x="496" y="272" width="1" height="2" fill="#000"/>
<rect x="495" y="257" width="3" height="15" fill="#000"/>
<rect x="501" y="270" width="1" height="1" fill="#000"/>
<rect x="501" y="278" width="1" height="4" fill="#000"/>
<rect x="500" y="271" width="3" height="7" fill="#000"/>
<rect x="505" y="275" width="1" height="1" fill="#000"/>
<rect x="505" y="277" width="1" height="8" fill="#000"/>
<rect x="504" y="276" width="3" height="1" fill="#000"/>
<rect x="510" y="277" width="1" height="1" fill="#000"/>
<rect x="510" y="279" width="1" height="8" fill="#000"/>
<rect x="509" y="278" width="3" height="1" fill="#000"/>
<rect x="514" y="269" width="1" height="3" fill="#000"/>
<rect x="514" y="276" width="1" height="2" fill="#000"/>
<rect x="513" y="272" width="3" height="1" fill="#000"/>
<rect x="513" y="275" width="3" height="1" fill="#000"/>
<rect x="513" y="272" width="1" height="4" fill="#000"/>
<rect x="515" y="272" width="1" height="4" fill="#000"/>
<rect x="519" y="275" width="1" height="1" fill="#000"/>
<rect x="519" y="282" width="1" height="2" fill="#000"/>
<rect x="518" y="276" width="3" height="6" fill="#000"/>
<rect x="523" y="279" width="1" height="1" fill="#000"/>
<rect x="522" y="271" width="3" height="1" fill="#000"/>
<rect x="522" y="278" width="3" height="1" fill="#000"/>
<rect x="522" y="271" width="1" height="8" fill="#000"/>
<rect x="524" y="271" width="1" height="8" fill="#000"/>
<rect x="526" y="261" width="3" height="1" fill="#000"/>
<rect x="526" y="268" width="3" height="1" fill="#000"/>
<rect x="526" y="261" width="1" height="8" fill="#000"/>
<rect x="528" y="261" width="1" height="8" fill="#000"/>
<rect x="532" y="259" width="1" height="4" fill="#000"/>
<rect x="532" y="264" width="1" height="4" fill="#000"/>
<rect x="531" y="263" width="3" height="1" fill="#000"/>
<rect x="536" y="253" width="1" height="5" fill="#000"/>
<rect x="536" y="259" width="1" height="1" fill="#000"/>
<rect x="535" y="258" width="3" height="1" fill="#000"/>
<rect x="541" y="243" width="1" height="5" fill="#000"/>
<rect x="541" y="258" width="1" height="4" fill="#000"/>
<rect x="540" y="248" width="3" height="1" fill="#000"/>
<rect x="540" y="257" width="3" height="1" fill="#000"/>
<rect x="540" y="248" width="1" height="10" fill="#000"/>
<rect x="542" y="248" width="1" height="10" fill="#000"/>
<rect x="545" y="295" width="1" height="8" fill="#000"/>
<rect x="544" y="264" width="3" height="1" fill="#000"/>
<rect x="544" y="294" width="3" height="1" fill="#000"/>
<rect x="544" y="264" width="1" height="31" fill="#000"/>
<rect x="546" y="264" width="1" height="31" fill="#000"/>
<rect x="550" y="257" width="1" height="6" fill="#000"/>
<rect x="550" y="270" width="1" height="1" fill="#000"/>
<rect x="549" y="263" width="3" height="7" fill="#000"/>
<rect x="554" y="249" width="1" height="2" fill="#000"/>
<rect x="554" y="261" width="1" height="3" fill="#000"/>
<rect x="553" y="251" width="3" height="1" fill="#000"/>
<rect x="553" y="260" width="3" height="1" fill="#000"/>
<rect x="553" y="251" width="1" height="10" fill="#000"/>
<rect x="555" y="251" width="1" height="10" fill="#000"/>
<rect x="559" y="250" width="1" height="2" fill="#000"/>
<rect x="558" y="238" width="3" height="1" fill="#000"/>
<rect x="558" y="249" width="3" height="1" fill="#000"/>
<rect x="558" y="238" width="1" height="12" fill="#000"/>
<rect x="560" y="238" width="1" height="12" fill="#000"/>
<rect x="563" y="237" width="1" height="1" fill="#000"/>
<rect x="563" y="239" width="1" height="11" fill="#000"/>
<rect x="562" y="238" width="3" height="1" fill="#000"/>
<rect x="568" y="223" width="1" height="2" fill="#000"/>
<rect x="568" y="236" width="1" height="1" fill="#000"/>
<rect x="567" y="225" width="3" height="1" fill="#000"/>
<rect x="567" y="235" width="3" height="1" fill="#000"/>
<rect x="567" y="225" width="1" height="11" fill="#000"/>
<rect x="569" y="225" width="1" height="11" fill="#000"/>
<rect x="572" y="210" width="1" height="13" fill="#000"/>
<rect x="572" y="231" width="1" height="1" fill="#000"/>
<rect x="571" y="223" width="3" height="1" fill="#000"/>
<rect x="571" y="230" width="3" height="1" fill="#000"/>
<rect x="571" y="223" width="1" height="8" fill="#000"/>
<rect x="573" y="223" width="1" height="8" fill="#000"/>
<rect x="577" y="216" width="1" height="7" fill="#000"/>
<rect x="576" y="223" width="3" height="10" fill="#000"/>
<rect x="581" y="227" width="1" height="6" fill="#000"/>
<rect x="581" y="236" width="1" height="5" fill="#000"/>
<rect x="580" y="233" width="3" height="3" fill="#000"/>
<rect x="586" y="221" width="1" height="5" fill="#000"/>
<rect x="585" y="226" width="3" height="1" fill="#000"/>
<rect x="585" y="236" width="3" height="1" fill="#000"/>
<rect x="585" y="226" width="1" height="11" fill="#000"/>
<rect x="587" y="226" width="1" height="11" fill="#000"/>
<rect x="590" y="222" width="1" height="4" fill="#000"/>
<rect x="590" y="227" width="1" height="1" fill="#000"/>
<rect x="589" y="226" width="3" height="1" fill="#000"/>
<rect x="594" y="204" width="3" height="1" fill="#ff0000"/>
<rect x="594" y="217" width="3" height="1" fill="#ff0000"/>
<rect x="594" y="204" width="1" height="14" fill="#ff0000"/>
<rect x="596" y="204" width="1" height="14" fill="#ff0000"/>
<rect x="599" y="194" width="1" height="6" fill="#ff0000"/>
<rect x="599" y="213" width="1" height="2" fill="#ff0000"/>
<rect x="598" y="200" width="3" height="13" fill="#ff0000"/>
<rect x="603" y="202" width="1" height="4" fill="#000"/>
<rect x="602" y="193" width="3" height="1" fill="#000"/>
<rect x="602" y="201" width="3" height="1" fill="#000"/>
<rect x="602" y="193" width="1" height="9" fill="#000"/>
<rect x="604" y="193" width="1" height="9" fill="#000"/>
<rect x="608" y="198" width="1" height="4" fill="#000"/>
<rect x="607" y="188" width="3" height="1" fill="#000"/>
<rect x="607" y="197" width="3" height="1" fill="#000"/>
<rect x="607" y="188" width="1" height="10" fill="#000"/>
<rect x="609" y="188" width="1" height="10" fill="#000"/>
<rect x="612" y="172" width="1" height="4" fill="#000"/>
<rect x="612" y="191" width="1" height="2" fill="#000"/>
<rect x="611" y="176" width="3" height="1" fill="#000"/>
<rect x="611" y="190" width="3" height="1" fill="#000"/>
<rect x="611" y="176" width="1" height="15" fill="#000"/>
<rect x="613" y="176" width="1" height="15" fill="#000"/>
<rect x="617" y="170" width="1" height="3" fill="#000"/>
<rect x="617" y="182" width="1" height="5" fill="#000"/>
<rect x="616" y="173" width="3" height="1" fill="#000"/>
<rect x="616" y="181" width="3" height="1" fill="#000"/>
<rect x="616" y="173" width="1" height="9" fill="#000"/>
<rect x="618" y="173" width="1" height="9" fill="#000"/>
<rect x="621" y="178" width="1" height="1" fill="#000"/>
<rect x="620" y="171" width="3" height="7" fill="#000"/>
<rect x="626" y="181" width="1" height="7" fill="#000"/>
<rect x="625" y="175" width="3" height="6" fill="#000"/>
<rect x="630" y="170" width="1" height="1" fill="#000"/>
<rect x="630" y="179" width="1" height="1" fill="#000"/>
<rect x="629" y="171" width="3" height="1" fill="#000"/>
<rect x="629" y="178" width="3" height="1" fill="#000"/>
<rect x="629" y="171" width="1" height="8" fill="#000"/>
<rect x="631" y="171" width="1" height="8" fill="#000"/>
<rect x="635" y="166" width="1" height="3" fill="#000"/>
<rect x="635" y="175" width="1" height="3" fill="#000"/>
<rect x="634" y="169" width="3" height="1" fill="#000"/>
<rect x="634" y="174" width="3" height="1" fill="#000"/>
<rect x="634" y="169" width="1" height="6" fill="#000"/>
<rect x="636" y="169" width="1" height="6" fill="#000"/>
<rect x="639" y="163" width="1" height="7" fill="#000"/>
<rect x="638" y="170" width="3" height="1" fill="#000"/>
<rect x="644" y="168" width="1" height="2" fill="#000"/>
<rect x="644" y="171" width="1" height="6" fill="#000"/>
<rect x="643" y="170" width="3" height="1" fill="#000"/>
<rect x="648" y="152" width="1" height="5" fill="#000"/>
<rect x="648" y="173" width="1" height="1" fill="#000"/>
<rect x="647" y="157" width="3" height="1" fill="#000"/>
<rect x="647" y="172" width="3" height="1" fill="#000"/>
<rect x="647" y="157" width="1" height="16" fill="#000"/>
<rect x="649" y="157" width="1" height="16" fill="#000"/>
<rect x="653" y="146" width="1" height="6" fill="#000"/>
<rect x="652" y="152" width="3" height="1" fill="#000"/>
<rect x="652" y="156" width="3" height="1" fill="#000"/>
<rect x="652" y="152" width="1" height="5" fill="#000"/>
<rect x="654" y="152" width="1" height="5" fill="#000"/>
<rect x="657" y="160" width="1" height="4" fill="#000"/>
<rect x="656" y="152" width="3" height="8" fill="#000"/>
<rect x="662" y="151" width="1" height="5" fill="#000"/>
<rect x="662" y="158" width="1" height="5" fill="#000"/>
<rect x="661" y="156" width="3" height="2" fill="#000"/>
<rect x="666" y="151" width="1" height="5" fill="#000"/>
<rect x="666" y="162" width="1" height="1" fill="#000"/>
<rect x="665" y="156" width="3" height="6" fill="#000"/>
<rect x="670" y="158" width="1" height="5" fill="#000"/>
<rect x="670" y="164" width="1" height="5" fill="#000"/>
<rect x="669" y="163" width="3" height="1" fill="#000"/>
<rect x="675" y="155" width="1" height="2" fill="#000"/>
<rect x="674" y="157" width="3" height="1" fill="#000"/>
<rect x="674" y="167" width="3" height="1" fill="#000"/>
<rect x="674" y="157" width="1" height="11" fill="#000"/>
<rect x="676" y="157" width="1" height="11" fill="#000"/>
<rect x="679" y="153" width="1" height="1" fill="#000"/>
<rect x="678" y="154" width="3" height="1" fill="#000"/>
<rect x="678" y="157" width="3" height="1" fill="#000"/>
<rect x="678" y="154" width="1" height="4" fill="#000"/>
<rect x="680" y="154" width="1" height="4" fill="#000"/>
<rect x="683" y="149" width="3" height="1" fill="#000"/>
<rect x="683" y="153" width="3" height="1" fill="#000"/>
<rect x="683" y="149" width="1" height="5" fill="#000"/>
<rect x="685" y="149" width="1" height="5" fill="#000"/>
<rect x="688" y="161" width="1" height="2" fill="#000"/>
<rect x="687" y="153" width="3" height="8" fill="#000"/>
<rect x="693" y="149" width="1" height="2" fill="#000"/>
<rect x="693" y="161" width="1" height="1" fill="#000"/>
<rect x="692" y="151" width="3" height="1" fill="#000"/>
<rect x="692" y="160" width="3" height="1" fill="#000"/>
<rect x="692" y="151" width="1" height="10" fill="#000"/>
<rect x="694" y="151" width="1" height="10" fill="#000"/>
<rect x="697" y="150" width="1" height="1" fill="#000"/>
<rect x="697" y="152" width="1" height="6" fill="#000"/>
<rect x="696" y="151" width="3" height="1" fill="#000"/>
<rect x="702" y="150" width="1" height="2" fill="#000"/>
<rect x="702" y="156" width="1" height="2" fill="#000"/>
<rect x="701" y="152" width="3" height="4" fill="#000"/>
<rect x="706" y="149" width="1" height="4" fill="#000"/>
<rect x="705" y="153" width="3" height="1" fill="#000"/>
<rect x="705" y="157" width="3" height="1" fill="#000"/>
<rect x="705" y="153" width="1" height="5" fill="#000"/>
<rect x="707" y="153" width="1" height="5" fill="#000"/>
<rect x="711" y="151" width="1" height="6" fill="#000"/>
<rect x="711" y="160" width="1" height="1" fill="#000"/>
<rect x="710" y="157" width="3" height="3" fill="#000"/>
<rect x="715" y="163" width="1" height="19" fill="#008000"/>
<rect x="714" y="155" width="3" height="1" fill="#008000"/>
<rect x="714" y="162" width="3" height="1" fill="#008000"/>
<rect x="714" y="155" width="1" height="8" fill="#008000"/>
<rect x="716" y="155" width="1" height="8" fill="#008000"/>
<rect x="720" y="154" width="1" height="3" fill="#000"/>
<rect x="720" y="163" width="1" height="5" fill="#000"/>
<rect x="719" y="157" width="3" height="6" fill="#000"/>
<rect x="724" y="169" width="1" height="2" fill="#000"/>
<rect x="724" y="175" width="1" height="2" fill="#000"/>
<rect x="723" y="171" width="3" height="4" fill="#000"/>
<rect x="729" y="167" width="1" height="2" fill="#000"/>
<rect x="728" y="169" width="3" height="1" fill="#000"/>
<rect x="728" y="174" width="3" height="1" fill="#000"/>
<rect x="728" y="169" width="1" height="6" fill="#000"/>
<rect x="730" y="169" width="1" height="6" fill="#000"/>
<rect x="733" y="163" width="1" height="9" fill="#ff0000"/>
<rect x="732" y="172" width="3" height="1" fill="#ff0000"/>
<rect x="732" y="175" width="3" height="1" fill="#ff0000"/>
<rect x="732" y="172" width="1" height="4" fill="#ff0000"/>
<rect x="734" y="172" width="1" height="4" fill="#ff0000"/>
<rect x="738" y="188" width="1" height="3" fill="#000"/>
<rect x="737" y="175" width="3" height="13" fill="#000"/>
<rect x="742" y="177" width="1" height="6" fill="#000"/>
<rect x="742" y="188" width="1" height="2" fill="#000"/>
<rect x="741" y="183" width="3" height="1" fill="#000"/>
<rect x="741" y="187" width="3" height="1" fill="#000"/>
<rect x="741" y="183" width="1" height="5" fill="#000"/>
<rect x="743" y="183" width="1" height="5" fill="#000"/>
<rect x="746" y="183" width="1" height="4" fill="#000"/>
<rect x="746" y="194" width="1" height="1" fill="#000"/>
<rect x="745" y="187" width="3" height="7" fill="#000"/>
<rect x="751" y="193" width="1" height="1" fill="#000"/>
<rect x="751" y="197" width="1" height="6" fill="#000"/>
<rect x="750" y="194" width="3" height="3" fill="#000"/>
<rect x="755" y="187" width="1" height="6" fill="#000"/>
<rect x="755" y="197" width="1" height="3" fill="#000"/>
<rect x="754" y="193" width="3" height="1" fill="#000"/>
<rect x="754" y="196" width="3" height="1" fill="#000"/>
<rect x="754" y="193" width="1" height="4" fill="#000"/>
<rect x="756" y="193" width="1" height="4" fill="#000"/>
<rect x="760" y="185" width="1" height="2" fill="#000"/>
<rect x="759" y="187" width="3" height="16" fill="#000"/>
<rect x="764" y="191" width="1" height="2" fill="#000"/>
<rect x="764" y="201" width="1" height="3" fill="#000"/>
<rect x="763" y="193" width="3" height="1" fill="#000"/>
<rect x="763" y="200" width="3" height="1" fill="#000"/>
<rect x="763" y="193" width="1" height="8" fill="#000"/>
<rect x="765" y="193" width="1" height="8" fill="#000"/>
<rect x="769" y="180" width="1" height="3" fill="#000"/>
<rect x="768" y="183" width="3" height="1" fill="#000"/>
<rect x="768" y="194" width="3" height="1" fill="#000"/>
<rect x="768" y="183" width="1" height="12" fill="#000"/>
<rect x="770" y="183" width="1" height="12" fill="#000"/>
<rect x="773" y="173" width="1" height="3" fill="#000"/>
<rect x="773" y="180" width="1" height="10" fill="#000"/>
<rect x="772" y="176" width="3" height="1" fill="#000"/>
<rect x="772" y="179" width="3" height="1" fill="#000"/>
<rect x="772" y="176" width="1" height="4" fill="#000"/>
<rect x="774" y="176" width="1" height="4" fill="#000"/>
<rect x="778" y="156" width="1" height="6" fill="#000"/>
<rect x="777" y="162" width="3" height="1" fill="#000"/>
<rect x="777" y="169" width="3" height="1" fill="#000"/>
<rect x="777" y="162" width="1" height="8" fill="#000"/>
<rect x="779" y="162" width="1" height="8" fill="#000"/>
<rect x="782" y="158" width="1" height="5" fill="#000"/>
<rect x="781" y="163" width="3" height="15" fill="#000"/>
<rect x="787" y="177" width="1" height="2" fill="#000"/>
<rect x="786" y="179" width="3" height="21" fill="#000"/>
<rect x="791" y="203" width="1" height="2" fill="#000"/>
<rect x="791" y="210" width="1" height="11" fill="#000"/>
<rect x="790" y="205" width="3" height="5" fill="#000"/>
<rect x="796" y="214" width="1" height="2" fill="#000"/>
<rect x="795" y="197" width="3" height="17" fill="#000"/>
<rect x="44" y="297" width="3" height="1" fill="#008000"/>
<rect x="45" y="296" width="1" height="3" fill="#008000"/>
<rect x="156" y="245" width="3" height="1" fill="#ff0000"/>
<rect x="157" y="244" width="1" height="3" fill="#ff0000"/>
<rect x="281" y="172" width="3" height="1" fill="#008000"/>
<rect x="282" y="171" width="1" height="3" fill="#008000"/>
<rect x="366" y="199" width="3" height="1" fill="#ff0000"/>
<rect x="367" y="198" width="1" height="3" fill="#ff0000"/>
<rect x="596" y="220" width="3" height="1" fill="#ff0000"/>
<rect x="597" y="219" width="1" height="3" fill="#ff0000"/>
<rect x="714" y="152" width="3" height="1" fill="#008000"/>
<rect x="715" y="151" width="1" height="3" fill="#008000"/>
<rect x="732" y="179" width="3" height="1" fill="#ff0000"/>
<rect x="733" y="178" width="1" height="3" fill="#ff0000"/>
</g>
<g shape-rendering="crispEdges" fill="#0000ff">
<rect x="3" y="513" width="3" height="39"/>
<rect x="7" y="539" width="3" height="13"/>
<rect x="12" y="522" width="3" height="30"/>
<rect x="16" y="527" width="3" height="25"/>
<rect x="21" y="486" width="3" height="66"/>
<rect x="25" y="512" width="3" height="40"/>
<rect x="29" y="507" width="3" height="45"/>
<rect x="34" y="518" width="3" height="34"/>
<rect x="38" y="521" width="3" height="31"/>
<rect x="43" y="492" width="3" height="60"/>
<rect x="47" y="510" width="3" height="42"/>
<rect x="52" y="504" width="3" height="48"/>
<rect x="56" y="515" width="3" height="37"/>
<rect x="61" y="507" width="3" height="45"/>
<rect x="65" y="511" width="3" height="41"/>
<rect x="70" y="506" width="3" height="46"/>
<rect x="74" y="524" width="3" height="28"/>
<rect x="79" y="489" width="3" height="63"/>
<rect x="83" y="489" width="3" height="63"/>
<rect x="88" y="496" width="3" height="56"/>
<rect x="92" y="460" width="3" height="92"/>
<rect x="97" y="529" width="3" height="23"/>
<rect x="101" y="481" width="3" height="71"/>
<rect x="105" y="514" width="3" height="38"/>
<rect x="110" y="460" width="3" height="92"/>
<rect x="114" y="431" width="3" height="121"/>
<rect x="119" y="525" width="3" height="27"/>
<rect x="123" y="475" width="3" height="77"/>
<rect x="128" y="525" width="3" height="27"/>
<rect x="132" y="492" width="3" height="60"/>
<rect x="137" y="520" width="3" height="32"/>
<rect x="141" y="515" width="3" height="37"/>
<rect x="146" y="510" width="3" height="42"/>
<rect x="150" y="463" width="3" height="89"/>
<rect x="155" y="399" width="3" height="153"/>
<rect x="159" y="481" width="3" height="71"/>
<rect x="164" y="485" width="3" height="67"/>
<rect x="168" y="507" width="3" height="45"/>
<rect x="172" y="479" width="3" height="73"/>
<rect x="177" y="496" width="3" height="56"/>
<rect x="181" y="442" width="3" height="110"/>
<rect x="186" y="509" width="3" height="43"/>
<rect x="190" y="515" width="3" height="37"/>
<rect x="195" y="488" width="3" height="64"/>
<rect x="199" y="391" width="3" height="161"/>
<rect x="204" y="435" width="3" height="117"/>
<rect x="208" y="477" width="3" height="75"/>
<rect x="213" y="476" width="3" height="76"/>
<rect x="217" y="488" width="3" height="64"/>
<rect x="222" y="506" width="3" height="46"/>
<rect x="226" y="512" width="3" height="40"/>
<rect x="231" y="501" width="3" height="51"/>
<rect x="235" y="500" width="3" height="52"/>
<rect x="240" y="501" width="3" height="51"/>
<rect x="244" y="458" width="3" height="94"/>
<rect x="248" y="465" width="3" height="87"/>
<rect x="253" y="532" width="3" height="20"/>
<rect x="257" y="504" width="3" height="48"/>
<rect x="262" y="416" width="3" height="136"/>
<rect x="266" y="488" width="3" height="64"/>
<rect x="271" y="487" width="3" height="65"/>
<rect x="275" y="510" width="3" height="42"/>
<rect x="280" y="500" width="3" height="52"/>
<rect x="284" y="512" width="3" height="40"/>
<rect x="289" y="502" width="3" height="50"/>
<rect x="293" y="488" width="3" height="64"/>
<rect x="298" y="500" width="3" height="52"/>
<rect x="302" y="486" width="3" height="66"/>
<rect x="307" y="484" width="3" height="68"/>
<rect x="311" y="515" width="3" height="37"/>
<rect x="315" y="510" width="3" height="42"/>
<rect x="320" y="481" width="3" height="71"/>
<rect x="324" y="515" width="3" height="37"/>
<rect x="329" y="523" width="3" height="29"/>
<rect x="333" y="527" width="3" height="25"/>
<rect x="338" y="484" width="3" height="68"/>
<rect x="342" y="481" width="3" height="71"/>
<rect x="347" y="483" width="3" height="69"/>
<rect x="351" y="515" width="3" height="37"/>
<rect x="356" y="517" width="3" height="35"/>
<rect x="360" y="528" width="3" height="24"/>
<rect x="365" y="529" width="3" height="23"/>
<rect x="369" y="518" width="3" height="34"/>
<rect x="374" y="472" width="3" height="80"/>
<rect x="378" y="539" width="3" height="13"/>
<rect x="382" y="477" width="3" height="75"/>
<rect x="387" y="485" width="3" height="67"/>
<rect x="391" y="499" width="3" height="53"/>
<rect x="396" y="522" width="3" height="30"/>
<rect x="400" y="489" width="3" height="63"/>
<rect x="405" y="527" width="3" height="25"/>
<rect x="409" y="520" width="3" height="32"/>
<rect x="414" y="509" width="3" height="43"/>
<rect x="418" y="479" width="3" height="73"/>
<rect x="423" y="439" width="3" height="113"/>
<rect x="427" y="495" width="3" height="57"/>
<rect x="432" y="513" width="3" height="39"/>
<rect x="436" y="524" width="3" height="28"/>
<rect x="441" y="545" width="3" height="7"/>
<rect x="445" y="515" width="3" height="37"/>
<rect x="450" y="490" width="3" height="62"/>
<rect x="454" y="520" width="3" height="32"/>
<rect x="458" y="531" width="3" height="21"/>
<rect x="463" y="485" width="3" height="67"/>
<rect x="467" y="504" width="3" height="48"/>
<rect x="472" y="503" width="3" height="49"/>
<rect x="476" y="481" width="3" height="71"/>
<rect x="481" y="526" width="3" height="26"/>
<rect x="485" y="520" width="3" height="32"/>
<rect x="490" y="512" width="3" height="40"/>
<rect x="494" y="500" width="3" height="52"/>
<rect x="499" y="534" width="3" height="18"/>
<rect x="503" y="529" width="3" height="23"/>
<rect x="508" y="527" width="3" height="25"/>
<rect x="512" y="493" width="3" height="59"/>
<rect x="517" y="494" width="3" height="58"/>
<rect x="521" y="479" width="3" height="73"/>
<rect x="525" y="521" width="3" height="31"/>
<rect x="530" y="530" width="3" height="22"/>
<rect x="534" y="501" width="3" height="51"/>
<rect x="539" y="496" width="3" height="56"/>
<rect x="543" y="461" width="3" height="91"/>
<rect x="548" y="534" width="3" height="18"/>
<rect x="552" y="482" width="3" height="70"/>
<rect x="557" y="518" width="3" height="34"/>
<rect x="561" y="517" width="3" height="35"/>
<rect x="566" y="509" width="3" height="43"/>
<rect x="570" y="481" width="3" height="71"/>
<rect x="575" y="511" width="3" height="41"/>
<rect x="579" y="451" width="3" height="101"/>
<rect x="584" y="486" width="3" height="66"/>
<rect x="588" y="508" width="3" height="44"/>
<rect x="593" y="477" width="3" height="75"/>
<rect x="597" y="477" width="3" height="75"/>
<rect x="601" y="464" width="3" height="88"/>
<rect x="606" y="442" width="3" height="110"/>
<rect x="610" y="450" width="3" height="102"/>
<rect x="615" y="487" width="3" height="65"/>
<rect x="619" y="516" width="3" height="36"/>
<rect x="624" y="489" width="3" height="63"/>
<rect x="628" y="507" width="3" height="45"/>
<rect x="633" y="501" width="3" height="51"/>
<rect x="637" y="497" width="3" height="55"/>
<rect x="642" y="519" width="3" height="33"/>
<rect x="646" y="515" width="3" height="37"/>
<rect x="651" y="495" width="3" height="57"/>
<rect x="655" y="483" width="3" height="69"/>
<rect x="660" y="546" width="3" height="6"/>
<rect x="664" y="493" width="3" height="59"/>
<rect x="668" y="502" width="3" height="50"/>
<rect x="673" y="518" width="3" height="34"/>
<rect x="677" y="538" width="3" height="14"/>
<rect x="682" y="534" width="3" height="18"/>
<rect x="686" y="475" width="3" height="77"/>
<rect x="691" y="527" width="3" height="25"/>
<rect x="695" y="543" width="3" height="9"/>
<rect x="700" y="546" width="3" height="6"/>
<rect x="704" y="524" width="3" height="28"/>
<rect x="709" y="501" width="3" height="51"/>
<rect x="713" y="501" width="3" height="51"/>
<rect x="718" y="521" width="3" height="31"/>
<rect x="722" y="497" width="3" height="55"/>
<rect x="727" y="526" width="3" height="26"/>
<rect x="731" y="529" width="3" height="23"/>
<rect x="736" y="493" width="3" height="59"/>
<rect x="740" y="535" width="3" height="17"/>
<rect x="744" y="539" width="3" height="13"/>
<rect x="749" y="522" width="3" height="30"/>
<rect x="753" y="524" width="3" height="28"/>
<rect x="758" y="540" width="3" height="12"/>
<rect x="762" y="544" width="3" height="8"/>
<rect x="767" y="542" width="3" height="10"/>
<rect x="771" y="534" width="3" height="18"/>
<rect x="776" y="518" width="3" height="34"/>
<rect x="780" y="525" width="3" height="27"/>
<rect x="785" y="507" width="3" height="45"/>
<rect x="789" y="479" width="3" height="73"/>
<rect x="794" y="501" width="3" height="51"/>
</g>
<path d="M2.70,507.00 C3.73,507.75 7.12,510.57 8.90,511.50 C10.68,512.43 11.92,512.35 13.40,512.60 C14.88,512.85 16.32,512.67 17.80,513.00 C19.28,513.33 20.82,513.55 22.30,514.60 C23.78,515.65 24.85,518.58 26.70,519.30 C28.55,520.02 31.35,519.08 33.40,518.90 C35.45,518.72 37.15,518.80 39.00,518.20 C40.85,517.60 42.83,516.08 44.50,515.30 C46.17,514.52 47.50,514.17 49.00,513.50 C50.50,512.83 52.02,511.93 53.50,511.30 C54.98,510.67 56.42,510.22 57.90,509.70 C59.38,509.18 60.92,508.02 62.40,508.20 C63.88,508.38 65.32,510.43 66.80,510.80 C68.28,511.17 69.82,510.25 71.30,510.40 C72.78,510.55 74.22,511.82 75.70,511.70 C77.18,511.58 78.72,510.58 80.20,509.70 C81.68,508.82 83.12,507.03 84.60,506.40 C86.08,505.77 87.62,506.75 89.10,505.90 C90.58,505.05 92.02,501.78 93.50,501.30 C94.98,500.82 97.00,502.72 98.00,503.00 C99.00,503.28 98.50,503.43 99.50,503.00 C100.50,502.57 102.52,501.13 104.00,500.40 C105.48,499.67 106.93,499.75 108.40,498.60 C109.87,497.45 111.50,495.17 112.80,493.50 C114.10,491.83 114.72,489.53 116.20,488.60 C117.68,487.67 120.03,487.90 121.70,487.90 C123.37,487.90 124.72,488.20 126.20,488.60 C127.68,489.00 129.13,489.82 130.60,490.30 C132.07,490.78 133.52,490.68 135.00,491.50 C136.48,492.32 138.00,494.58 139.50,495.20 C141.00,495.82 142.50,494.90 144.00,495.20 C145.50,495.50 147.02,497.62 148.50,497.00 C149.98,496.38 151.42,493.02 152.90,491.50 C154.38,489.98 156.10,487.90 157.40,487.90 C158.70,487.90 159.40,491.38 160.70,491.50 C162.00,491.62 163.72,488.90 165.20,488.60 C166.68,488.30 168.13,490.08 169.60,489.70 C171.07,489.32 172.52,486.97 174.00,486.30 C175.48,485.63 176.83,486.92 178.50,485.70 C180.17,484.48 182.33,480.27 184.00,479.00 C185.67,477.73 187.50,478.25 188.50,478.10 C189.50,477.95 188.63,477.65 190.00,478.10 C191.37,478.55 194.47,481.10 196.70,480.80 C198.93,480.50 201.18,477.42 203.40,476.30 C205.62,475.18 207.97,474.83 210.00,474.10 C212.03,473.37 213.37,471.98 215.60,471.90 C217.83,471.82 221.35,472.12 223.40,473.60 C225.45,475.08 226.42,479.68 227.90,480.80 C229.38,481.92 230.82,480.75 232.30,480.30 C233.78,479.85 235.32,478.02 236.80,478.10 C238.28,478.18 239.72,479.43 241.20,480.80 C242.68,482.17 244.22,484.82 245.70,486.30 C247.18,487.78 248.62,488.40 250.10,489.70 C251.58,491.00 253.18,492.80 254.60,494.10 C256.02,495.40 257.30,497.68 258.60,497.50 C259.90,497.32 261.03,494.30 262.40,493.00 C263.77,491.70 265.13,490.82 266.80,489.70 C268.47,488.58 270.35,486.75 272.40,486.30 C274.45,485.85 276.87,486.73 279.10,487.00 C281.33,487.27 284.07,487.27 285.80,487.90 C287.53,488.53 288.15,489.77 289.50,490.80 C290.85,491.83 292.42,493.92 293.90,494.10 C295.38,494.28 296.92,492.57 298.40,491.90 C299.88,491.23 301.32,489.35 302.80,490.10 C304.28,490.85 305.63,494.80 307.30,496.40 C308.97,498.00 311.13,498.88 312.80,499.70 C314.47,500.52 315.82,501.37 317.30,501.30 C318.78,501.23 320.03,499.45 321.70,499.30 C323.37,499.15 325.62,500.07 327.30,500.40 C328.98,500.73 330.13,500.67 331.80,501.30 C333.47,501.93 335.45,503.98 337.30,504.20 C339.15,504.42 341.03,503.08 342.90,502.60 C344.77,502.12 346.65,501.03 348.50,501.30 C350.35,501.57 352.15,503.43 354.00,504.20 C355.85,504.97 357.73,504.98 359.60,505.90 C361.47,506.82 363.53,508.68 365.20,509.70 C366.87,510.72 368.12,512.30 369.60,512.00 C371.08,511.70 372.62,508.73 374.10,507.90 C375.58,507.07 376.77,507.18 378.50,507.00 C380.23,506.82 382.77,506.65 384.50,506.80 C386.23,506.95 387.42,507.52 388.90,507.90 C390.38,508.28 391.92,508.80 393.40,509.10 C394.88,509.40 396.32,510.05 397.80,509.70 C399.28,509.35 400.82,507.52 402.30,507.00 C403.78,506.48 405.03,506.82 406.70,506.60 C408.37,506.38 410.63,505.92 412.30,505.70 C413.97,505.48 415.40,505.37 416.70,505.30 C418.00,505.23 418.80,506.78 420.10,505.30 C421.40,503.82 422.83,497.52 424.50,496.40 C426.17,495.28 428.23,497.78 430.10,498.60 C431.97,499.42 433.85,500.37 435.70,501.30 C437.55,502.23 439.35,503.17 441.20,504.20 C443.05,505.23 445.12,507.50 446.80,507.50 C448.48,507.50 449.82,504.83 451.30,504.20 C452.78,503.57 453.85,503.33 455.70,503.70 C457.55,504.07 460.53,505.22 462.40,506.40 C464.27,507.58 465.42,509.58 466.90,510.80 C468.38,512.02 469.82,513.50 471.30,513.70 C472.78,513.90 474.43,512.48 475.80,512.00 C477.17,511.52 478.15,511.37 479.50,510.80 C480.85,510.23 482.42,509.15 483.90,508.60 C485.38,508.05 486.92,507.50 488.40,507.50 C489.88,507.50 491.32,508.15 492.80,508.60 C494.28,509.05 495.63,509.93 497.30,510.20 C498.97,510.47 501.13,509.72 502.80,510.20 C504.47,510.68 506.00,512.43 507.30,513.10 C508.60,513.77 509.12,514.17 510.60,514.20 C512.08,514.23 514.33,513.67 516.20,513.30 C518.07,512.93 519.95,512.15 521.80,512.00 C523.65,511.85 525.45,512.22 527.30,512.40 C529.15,512.58 531.22,513.25 532.90,513.10 C534.58,512.95 535.92,512.07 537.40,511.50 C538.88,510.93 540.50,510.85 541.80,509.70 C543.10,508.55 543.90,505.45 545.20,504.60 C546.50,503.75 548.12,505.30 549.60,504.60 C551.08,503.90 552.62,500.67 554.10,500.40 C555.58,500.13 557.02,502.18 558.50,503.00 C559.98,503.82 561.52,504.55 563.00,505.30 C564.48,506.05 566.10,507.58 567.40,507.50 C568.70,507.42 569.62,505.62 570.80,504.80 C571.98,503.98 573.15,503.63 574.50,502.60 C575.85,501.57 577.42,499.72 578.90,498.60 C580.38,497.48 582.10,496.08 583.40,495.90 C584.70,495.72 585.60,496.75 586.70,497.50 C587.80,498.25 588.70,500.85 590.00,500.40 C591.30,499.95 593.00,496.03 594.50,494.80 C596.00,493.57 597.52,494.03 599.00,493.00 C600.48,491.97 601.73,490.63 603.40,488.60 C605.07,486.57 607.33,482.92 609.00,480.80 C610.67,478.68 611.92,476.65 613.40,475.90 C614.88,475.15 616.22,475.67 617.90,476.30 C619.58,476.93 621.83,478.77 623.50,479.70 C625.17,480.63 626.23,481.53 627.90,481.90 C629.57,482.27 631.83,481.53 633.50,481.90 C635.17,482.27 636.42,483.17 637.90,484.10 C639.38,485.03 640.92,486.02 642.40,487.50 C643.88,488.98 645.32,491.23 646.80,493.00 C648.28,494.77 649.82,496.62 651.30,498.10 C652.78,499.58 654.03,500.42 655.70,501.90 C657.37,503.38 659.62,506.25 661.30,507.00 C662.98,507.75 664.43,506.40 665.80,506.40 C667.17,506.40 668.15,506.75 669.50,507.00 C670.85,507.25 672.42,507.15 673.90,507.90 C675.38,508.65 676.92,510.45 678.40,511.50 C679.88,512.55 681.32,514.20 682.80,514.20 C684.28,514.20 685.82,511.68 687.30,511.50 C688.78,511.32 690.03,511.92 691.70,513.10 C693.37,514.28 695.63,517.02 697.30,518.60 C698.97,520.18 700.03,522.15 701.70,522.60 C703.37,523.05 705.43,521.40 707.30,521.30 C709.17,521.20 711.03,521.85 712.90,522.00 C714.77,522.15 716.65,522.83 718.50,522.20 C720.35,521.57 722.33,518.98 724.00,518.20 C725.67,517.42 727.02,516.98 728.50,517.50 C729.98,518.02 731.23,521.12 732.90,521.30 C734.57,521.48 736.63,519.23 738.50,518.60 C740.37,517.97 742.25,517.80 744.10,517.50 C745.95,517.20 747.93,516.43 749.60,516.80 C751.27,517.17 752.42,518.58 754.10,519.70 C755.78,520.82 757.88,522.27 759.70,523.50 C761.52,524.73 763.37,526.00 765.00,527.10 C766.63,528.20 768.17,529.52 769.50,530.10 C770.83,530.68 771.68,530.60 773.00,530.60 C774.32,530.60 775.92,529.80 777.40,530.10 C778.88,530.40 780.57,532.32 781.90,532.40 C783.23,532.48 784.23,531.48 785.40,530.60 C786.57,529.72 787.72,528.37 788.90,527.10 C790.08,525.83 791.32,523.88 792.50,523.00 C793.68,522.12 795.42,522.00 796.00,521.80" fill="none" stroke="#ff0000" stroke-width="1.1" stroke-linejoin="round" />
<g shape-rendering="crispEdges" fill="#889fae">
<rect x="3" y="640" width="3" height="19"/>
<rect x="7" y="640" width="3" height="19"/>
<rect x="12" y="644" width="3" height="15"/>
<rect x="16" y="646" width="3" height="13"/>
<rect x="21" y="651" width="3" height="8"/>
<rect x="25" y="656" width="3" height="3"/>
<rect x="29" y="660" width="3" height="1"/>
<rect x="34" y="660" width="3" height="1"/>
<rect x="43" y="657" width="3" height="2"/>
<rect x="56" y="657" width="3" height="2"/>
<rect x="61" y="657" width="3" height="2"/>
<rect x="65" y="656" width="3" height="3"/>
<rect x="70" y="653" width="3" height="6"/>
<rect x="74" y="651" width="3" height="8"/>
<rect x="79" y="648" width="3" height="11"/>
<rect x="83" y="646" width="3" height="13"/>
<rect x="88" y="646" width="3" height="13"/>
<rect x="92" y="644" width="3" height="15"/>
<rect x="97" y="645" width="3" height="14"/>
<rect x="101" y="646" width="3" height="13"/>
<rect x="105" y="646" width="3" height="13"/>
<rect x="110" y="643" width="3" height="16"/>
<rect x="114" y="640" width="3" height="19"/>
<rect x="119" y="639" width="3" height="20"/>
<rect x="123" y="642" width="3" height="17"/>
<rect x="128" y="645" width="3" height="14"/>
<rect x="132" y="649" width="3" height="10"/>
<rect x="137" y="650" width="3" height="9"/>
<rect x="141" y="650" width="3" height="9"/>
<rect x="146" y="649" width="3" height="10"/>
<rect x="150" y="645" width="3" height="14"/>
<rect x="155" y="643" width="3" height="16"/>
<rect x="159" y="641" width="3" height="18"/>
<rect x="164" y="638" width="3" height="21"/>
<rect x="168" y="638" width="3" height="21"/>
<rect x="172" y="643" width="3" height="16"/>
<rect x="177" y="647" width="3" height="12"/>
<rect x="181" y="647" width="3" height="12"/>
<rect x="186" y="648" width="3" height="11"/>
<rect x="190" y="650" width="3" height="9"/>
<rect x="195" y="651" width="3" height="8"/>
<rect x="199" y="648" width="3" height="11"/>
<rect x="204" y="643" width="3" height="16"/>
<rect x="208" y="641" width="3" height="18"/>
<rect x="213" y="645" width="3" height="14"/>
<rect x="217" y="648" width="3" height="11"/>
<rect x="222" y="653" width="3" height="6"/>
<rect x="226" y="656" width="3" height="3"/>
<rect x="231" y="657" width="3" height="2"/>
<rect x="240" y="660" width="3" height="3"/>
<rect x="244" y="660" width="3" height="1"/>
<rect x="266" y="660" width="3" height="3"/>
<rect x="271" y="660" width="3" height="4"/>
<rect x="275" y="660" width="3" height="4"/>
<rect x="280" y="660" width="3" height="4"/>
<rect x="284" y="660" width="3" height="6"/>
<rect x="289" y="660" width="3" height="8"/>
<rect x="293" y="660" width="3" height="13"/>
<rect x="298" y="660" width="3" height="16"/>
<rect x="302" y="660" width="3" height="19"/>
<rect x="307" y="660" width="3" height="21"/>
<rect x="311" y="660" width="3" height="20"/>
<rect x="315" y="660" width="3" height="17"/>
<rect x="320" y="660" width="3" height="11"/>
<rect x="324" y="660" width="3" height="7"/>
<rect x="329" y="660" width="3" height="6"/>
<rect x="333" y="660" width="3" height="5"/>
<rect x="338" y="660" width="3" height="1"/>
<rect x="342" y="656" width="3" height="3"/>
<rect x="347" y="654" width="3" height="5"/>
<rect x="351" y="653" width="3" height="6"/>
<rect x="356" y="654" width="3" height="5"/>
<rect x="360" y="656" width="3" height="3"/>
<rect x="369" y="660" width="3" height="1"/>
<rect x="382" y="660" width="3" height="4"/>
<rect x="387" y="660" width="3" height="8"/>
<rect x="391" y="660" width="3" height="10"/>
<rect x="396" y="660" width="3" height="12"/>
<rect x="400" y="660" width="3" height="15"/>
<rect x="405" y="660" width="3" height="16"/>
<rect x="409" y="660" width="3" height="16"/>
<rect x="414" y="660" width="3" height="16"/>
<rect x="418" y="660" width="3" height="12"/>
<rect x="423" y="660" width="3" height="10"/>
<rect x="427" y="660" width="3" height="10"/>
<rect x="432" y="660" width="3" height="10"/>
<rect x="436" y="660" width="3" height="9"/>
<rect x="441" y="660" width="3" height="8"/>
<rect x="445" y="660" width="3" height="5"/>
<rect x="450" y="660" width="3" height="2"/>
<rect x="454" y="660" width="3" height="1"/>
<rect x="458" y="660" width="3" height="1"/>
<rect x="463" y="660" width="3" height="2"/>
<rect x="467" y="660" width="3" height="5"/>
<rect x="472" y="660" width="3" height="7"/>
<rect x="476" y="660" width="3" height="4"/>
<rect x="481" y="660" width="3" height="1"/>
<rect x="490" y="655" width="3" height="4"/>
<rect x="494" y="654" width="3" height="5"/>
<rect x="499" y="654" width="3" height="5"/>
<rect x="503" y="655" width="3" height="4"/>
<rect x="508" y="655" width="3" height="4"/>
<rect x="512" y="654" width="3" height="5"/>
<rect x="517" y="654" width="3" height="5"/>
<rect x="521" y="653" width="3" height="6"/>
<rect x="525" y="651" width="3" height="8"/>
<rect x="530" y="650" width="3" height="9"/>
<rect x="534" y="649" width="3" height="10"/>
<rect x="539" y="646" width="3" height="13"/>
<rect x="543" y="648" width="3" height="11"/>
<rect x="548" y="650" width="3" height="9"/>
<rect x="552" y="649" width="3" height="10"/>
<rect x="557" y="647" width="3" height="12"/>
<rect x="561" y="646" width="3" height="13"/>
<rect x="566" y="644" width="3" height="15"/>
<rect x="570" y="642" width="3" height="17"/>
<rect x="575" y="643" width="3" height="16"/>
<rect x="579" y="647" width="3" height="12"/>
<rect x="584" y="647" width="3" height="12"/>
<rect x="588" y="648" width="3" height="11"/>
<rect x="593" y="646" width="3" height="13"/>
<rect x="597" y="647" width="3" height="12"/>
<rect x="601" y="645" width="3" height="14"/>
<rect x="606" y="644" width="3" height="15"/>
<rect x="610" y="642" width="3" height="17"/>
<rect x="615" y="642" width="3" height="17"/>
<rect x="619" y="644" width="3" height="15"/>
<rect x="624" y="646" width="3" height="13"/>
<rect x="628" y="647" width="3" height="12"/>
<rect x="633" y="649" width="3" height="10"/>
<rect x="637" y="651" width="3" height="8"/>
<rect x="642" y="653" width="3" height="6"/>
<rect x="646" y="653" width="3" height="6"/>
<rect x="651" y="652" width="3" height="7"/>
<rect x="655" y="654" width="3" height="5"/>
<rect x="660" y="656" width="3" height="3"/>
<rect x="668" y="660" width="3" height="1"/>
<rect x="673" y="660" width="3" height="2"/>
<rect x="677" y="660" width="3" height="3"/>
<rect x="682" y="660" width="3" height="2"/>
<rect x="686" y="660" width="3" height="4"/>
<rect x="691" y="660" width="3" height="4"/>
<rect x="695" y="660" width="3" height="4"/>
<rect x="700" y="660" width="3" height="5"/>
<rect x="704" y="660" width="3" height="5"/>
<rect x="709" y="660" width="3" height="7"/>
<rect x="713" y="660" width="3" height="7"/>
<rect x="718" y="660" width="3" height="8"/>
<rect x="722" y="660" width="3" height="11"/>
<rect x="727" y="660" width="3" height="11"/>
<rect x="731" y="660" width="3" height="12"/>
<rect x="736" y="660" width="3" height="14"/>
<rect x="740" y="660" width="3" height="14"/>
<rect x="744" y="660" width="3" height="15"/>
<rect x="749" y="660" width="3" height="16"/>
<rect x="753" y="660" width="3" height="15"/>
<rect x="758" y="660" width="3" height="15"/>
<rect x="762" y="660" width="3" height="13"/>
<rect x="767" y="660" width="3" height="10"/>
<rect x="771" y="660" width="3" height="5"/>
<rect x="776" y="660" width="3" height="2"/>
<rect x="780" y="660" width="3" height="2"/>
<rect x="785" y="660" width="3" height="2"/>
<rect x="789" y="660" width="3" height="6"/>
<rect x="794" y="660" width="3" height="8"/>
</g>
<path d="M4.90,735.60 C5.72,734.63 8.02,731.42 9.80,729.80 C11.58,728.18 13.65,726.98 15.60,725.90 C17.55,724.82 19.55,723.95 21.50,723.30 C23.45,722.65 25.35,722.17 27.30,722.00 C29.25,721.83 31.25,722.15 33.20,722.30 C35.15,722.45 37.05,722.95 39.00,722.90 C40.95,722.85 42.93,722.15 44.90,722.00 C46.87,721.85 48.85,722.07 50.80,722.00 C52.75,721.93 54.65,721.77 56.60,721.60 C58.55,721.43 60.53,721.20 62.50,721.00 C64.47,720.80 66.45,720.95 68.40,720.40 C70.35,719.85 72.25,718.68 74.20,717.70 C76.15,716.72 78.15,715.68 80.10,714.50 C82.05,713.32 83.95,711.90 85.90,710.60 C87.85,709.30 90.17,707.90 91.80,706.70 C93.43,705.50 94.18,704.53 95.70,703.40 C97.22,702.27 99.07,701.37 100.90,699.90 C102.73,698.43 104.75,696.13 106.70,694.60 C108.65,693.07 110.65,692.48 112.60,690.70 C114.55,688.92 116.45,686.02 118.40,683.90 C120.35,681.78 122.33,679.80 124.30,678.00 C126.27,676.20 128.25,674.37 130.20,673.10 C132.15,671.83 134.05,671.30 136.00,670.40 C137.95,669.50 139.95,668.72 141.90,667.70 C143.85,666.68 145.75,665.67 147.70,664.30 C149.65,662.93 151.63,661.12 153.60,659.50 C155.57,657.88 157.55,656.40 159.50,654.60 C161.45,652.80 163.35,650.82 165.30,648.70 C167.25,646.58 169.25,643.75 171.20,641.90 C173.15,640.05 175.05,638.90 177.00,637.60 C178.95,636.30 180.93,635.33 182.90,634.10 C184.87,632.87 186.63,631.25 188.80,630.20 C190.97,629.15 193.75,628.95 195.90,627.80 C198.05,626.65 199.75,624.93 201.70,623.30 C203.65,621.67 205.65,619.53 207.60,618.00 C209.55,616.47 211.45,615.33 213.40,614.10 C215.35,612.87 217.33,611.35 219.30,610.60 C221.27,609.85 223.25,609.98 225.20,609.60 C227.15,609.22 229.05,608.52 231.00,608.30 C232.95,608.08 234.95,608.17 236.90,608.30 C238.85,608.43 240.75,608.88 242.70,609.10 C244.65,609.32 246.63,609.52 248.60,609.60 C250.57,609.68 252.55,609.60 254.50,609.60 C256.45,609.60 258.35,609.43 260.30,609.60 C262.25,609.77 264.25,610.17 266.20,610.60 C268.15,611.03 270.05,611.70 272.00,612.20 C273.95,612.70 275.93,613.15 277.90,613.60 C279.87,614.05 281.63,614.25 283.80,614.90 C285.97,615.55 288.75,616.27 290.90,617.50 C293.05,618.73 294.92,620.68 296.70,622.30 C298.48,623.92 299.97,625.23 301.60,627.20 C303.23,629.17 304.87,631.98 306.50,634.10 C308.13,636.22 309.77,638.12 311.40,639.90 C313.03,641.68 314.52,643.43 316.30,644.80 C318.08,646.17 320.15,647.12 322.10,648.10 C324.05,649.08 326.05,649.85 328.00,650.70 C329.95,651.55 332.02,652.65 333.80,653.20 C335.58,653.75 337.07,654.03 338.70,654.00 C340.33,653.97 341.80,653.40 343.60,653.00 C345.40,652.60 347.55,652.05 349.50,651.60 C351.45,651.15 353.35,650.72 355.30,650.30 C357.25,649.88 359.25,649.47 361.20,649.10 C363.15,648.73 365.05,648.17 367.00,648.10 C368.95,648.03 370.93,648.53 372.90,648.70 C374.87,648.87 376.63,648.62 378.80,649.10 C380.97,649.58 383.75,650.78 385.90,651.60 C388.05,652.42 389.75,652.85 391.70,654.00 C393.65,655.15 395.65,656.93 397.60,658.50 C399.55,660.07 401.45,661.68 403.40,663.40 C405.35,665.12 407.33,666.92 409.30,668.80 C411.27,670.68 413.25,673.00 415.20,674.70 C417.15,676.40 419.05,677.80 421.00,679.00 C422.95,680.20 424.95,680.87 426.90,681.90 C428.85,682.93 430.75,684.12 432.70,685.20 C434.65,686.28 436.63,687.48 438.60,688.40 C440.57,689.32 442.55,690.15 444.50,690.70 C446.45,691.25 448.35,691.37 450.30,691.70 C452.25,692.03 454.25,692.38 456.20,692.70 C458.15,693.02 460.05,693.12 462.00,693.60 C463.95,694.08 465.93,695.03 467.90,695.60 C469.87,696.17 471.63,696.52 473.80,697.00 C475.97,697.48 478.75,698.32 480.90,698.50 C483.05,698.68 484.75,698.42 486.70,698.10 C488.65,697.78 490.65,697.08 492.60,696.60 C494.55,696.12 496.45,695.63 498.40,695.20 C500.35,694.77 502.33,694.42 504.30,694.00 C506.27,693.58 508.25,693.02 510.20,692.70 C512.15,692.38 514.05,692.43 516.00,692.10 C517.95,691.77 519.95,691.42 521.90,690.70 C523.85,689.98 525.75,688.83 527.70,687.80 C529.65,686.77 531.63,685.65 533.60,684.50 C535.57,683.35 537.55,681.98 539.50,680.90 C541.45,679.82 543.35,678.90 545.30,678.00 C547.25,677.10 549.25,676.57 551.20,675.50 C553.15,674.43 555.05,672.90 557.00,671.60 C558.95,670.30 560.93,669.13 562.90,667.70 C564.87,666.27 566.63,664.77 568.80,663.00 C570.97,661.23 573.75,658.73 575.90,657.10 C578.05,655.47 579.75,654.43 581.70,653.20 C583.65,651.97 585.65,650.87 587.60,649.70 C589.55,648.53 591.45,647.50 593.40,646.20 C595.35,644.90 597.33,643.33 599.30,641.90 C601.27,640.47 603.25,639.07 605.20,637.60 C607.15,636.13 609.05,634.83 611.00,633.10 C612.95,631.37 614.95,629.00 616.90,627.20 C618.85,625.40 620.75,623.77 622.70,622.30 C624.65,620.83 626.63,619.70 628.60,618.40 C630.57,617.10 632.55,615.53 634.50,614.50 C636.45,613.47 638.35,612.85 640.30,612.20 C642.25,611.55 644.25,611.18 646.20,610.60 C648.15,610.02 650.05,609.28 652.00,608.70 C653.95,608.12 655.93,607.50 657.90,607.10 C659.87,606.70 661.63,606.10 663.80,606.30 C665.97,606.50 668.75,607.83 670.90,608.30 C673.05,608.77 674.75,608.82 676.70,609.10 C678.65,609.38 680.65,609.58 682.60,610.00 C684.55,610.42 686.45,611.17 688.40,611.60 C690.35,612.03 692.33,612.12 694.30,612.60 C696.27,613.08 698.25,613.92 700.20,614.50 C702.15,615.08 704.05,615.45 706.00,616.10 C707.95,616.75 709.95,617.62 711.90,618.40 C713.85,619.18 715.75,619.82 717.70,620.80 C719.65,621.78 721.63,623.07 723.60,624.30 C725.57,625.53 727.55,626.83 729.50,628.20 C731.45,629.57 733.55,631.13 735.30,632.50 C737.05,633.87 738.45,635.15 740.00,636.40 C741.55,637.65 743.08,638.72 744.60,640.00 C746.12,641.28 747.58,642.73 749.10,644.10 C750.62,645.47 752.18,646.83 753.70,648.20 C755.22,649.57 756.68,651.00 758.20,652.30 C759.72,653.60 761.28,654.93 762.80,656.00 C764.32,657.07 765.78,657.90 767.30,658.70 C768.82,659.50 770.37,660.30 771.90,660.80 C773.43,661.30 774.98,661.55 776.50,661.70 C778.02,661.85 779.48,661.67 781.00,661.70 C782.52,661.73 784.08,661.57 785.60,661.90 C787.12,662.23 788.43,663.02 790.10,663.70 C791.77,664.38 794.68,665.62 795.60,666.00" fill="none" stroke="#ff0000" stroke-width="1.1" stroke-linejoin="round" stroke-dasharray="4.6 1.5" />
<path d="M4.30,718.00 C5.05,717.20 7.23,714.10 8.80,713.20 C10.37,712.30 12.07,712.77 13.70,712.60 C15.33,712.43 16.98,711.78 18.60,712.20 C20.22,712.62 21.95,713.97 23.40,715.10 C24.85,716.23 26.05,717.60 27.30,719.00 C28.55,720.40 29.58,722.58 30.90,723.50 C32.22,724.42 33.85,724.57 35.20,724.50 C36.55,724.43 37.53,723.65 39.00,723.10 C40.47,722.55 42.37,721.38 44.00,721.20 C45.63,721.02 47.35,721.87 48.80,722.00 C50.25,722.13 51.40,722.33 52.70,722.00 C54.00,721.67 55.30,720.43 56.60,720.00 C57.90,719.57 58.87,719.57 60.50,719.40 C62.13,719.23 64.43,720.03 66.40,719.00 C68.37,717.97 70.35,715.15 72.30,713.20 C74.25,711.25 76.15,709.27 78.10,707.30 C80.05,705.33 82.05,703.35 84.00,701.40 C85.95,699.45 87.97,697.45 89.80,695.60 C91.63,693.75 93.15,691.60 95.00,690.30 C96.85,689.00 98.95,689.03 100.90,687.80 C102.85,686.57 104.92,684.85 106.70,682.90 C108.48,680.95 109.97,678.55 111.60,676.10 C113.23,673.65 114.87,670.58 116.50,668.20 C118.13,665.82 119.77,663.03 121.40,661.80 C123.03,660.57 124.68,660.93 126.30,660.80 C127.92,660.67 129.48,660.80 131.10,661.00 C132.72,661.20 134.53,661.93 136.00,662.00 C137.47,662.07 138.60,661.98 139.90,661.40 C141.20,660.82 142.50,659.42 143.80,658.50 C145.10,657.58 146.40,657.30 147.70,655.90 C149.00,654.50 150.30,651.95 151.60,650.10 C152.90,648.25 154.18,646.48 155.50,644.80 C156.82,643.12 158.03,641.92 159.50,640.00 C160.97,638.08 162.68,635.92 164.30,633.30 C165.92,630.68 167.57,625.87 169.20,624.30 C170.83,622.73 172.47,623.83 174.10,623.90 C175.73,623.97 177.37,624.97 179.00,624.70 C180.63,624.43 182.27,623.02 183.90,622.30 C185.53,621.58 187.78,620.72 188.80,620.40 C189.82,620.08 188.67,620.50 190.00,620.40 C191.33,620.30 194.85,621.43 196.80,619.80 C198.75,618.17 200.23,613.10 201.70,610.60 C203.17,608.10 204.30,606.58 205.60,604.80 C206.90,603.02 208.03,600.72 209.50,599.90 C210.97,599.08 212.77,599.73 214.40,599.90 C216.03,600.07 217.67,600.25 219.30,600.90 C220.93,601.55 222.57,602.93 224.20,603.80 C225.83,604.67 227.48,605.45 229.10,606.10 C230.72,606.75 232.43,606.95 233.90,607.70 C235.37,608.45 236.75,609.72 237.90,610.60 C239.05,611.48 239.67,612.93 240.80,613.00 C241.93,613.07 243.08,611.57 244.70,611.00 C246.32,610.43 248.87,609.92 250.50,609.60 C252.13,609.28 253.03,609.25 254.50,609.10 C255.97,608.95 257.85,608.62 259.30,608.70 C260.75,608.78 261.73,608.70 263.20,609.60 C264.67,610.50 266.47,612.88 268.10,614.10 C269.73,615.32 271.05,616.12 273.00,616.90 C274.95,617.68 277.85,618.05 279.80,618.80 C281.75,619.55 283.18,620.48 284.70,621.40 C286.22,622.32 287.38,622.18 288.90,624.30 C290.42,626.42 292.17,631.33 293.80,634.10 C295.43,636.87 297.07,638.13 298.70,640.90 C300.33,643.67 301.82,647.77 303.60,650.70 C305.38,653.63 307.62,656.55 309.40,658.50 C311.18,660.45 312.67,661.98 314.30,662.40 C315.93,662.82 317.42,661.75 319.20,661.00 C320.98,660.25 323.22,658.32 325.00,657.90 C326.78,657.48 328.10,658.40 329.90,658.50 C331.70,658.60 334.00,659.32 335.80,658.50 C337.60,657.68 339.08,655.33 340.70,653.60 C342.32,651.87 343.55,649.53 345.50,648.10 C347.45,646.67 350.43,645.45 352.40,645.00 C354.37,644.55 355.68,645.20 357.30,645.40 C358.92,645.60 360.48,645.75 362.10,646.20 C363.72,646.65 365.37,647.52 367.00,648.10 C368.63,648.68 370.27,649.43 371.90,649.70 C373.53,649.97 375.45,649.70 376.80,649.70 C378.15,649.70 378.82,648.88 380.00,649.70 C381.18,650.52 382.43,652.48 383.90,654.60 C385.37,656.72 387.17,660.28 388.80,662.40 C390.43,664.52 392.07,665.68 393.70,667.30 C395.33,668.92 397.13,670.32 398.60,672.10 C400.07,673.88 401.05,676.20 402.50,678.00 C403.95,679.80 405.83,681.27 407.30,682.90 C408.77,684.53 409.98,686.33 411.30,687.80 C412.62,689.27 413.90,691.22 415.20,691.70 C416.50,692.18 417.65,690.87 419.10,690.70 C420.55,690.53 422.28,690.28 423.90,690.70 C425.52,691.12 427.17,692.22 428.80,693.20 C430.43,694.18 432.07,695.82 433.70,696.60 C435.33,697.38 436.97,697.58 438.60,697.90 C440.23,698.22 442.03,698.57 443.50,698.50 C444.97,698.43 445.93,698.08 447.40,697.50 C448.87,696.92 450.68,695.48 452.30,695.00 C453.92,694.52 455.48,694.50 457.10,694.60 C458.72,694.70 460.37,694.78 462.00,695.60 C463.63,696.42 465.27,698.20 466.90,699.50 C468.53,700.80 470.50,702.52 471.80,703.40 C473.10,704.28 473.52,704.90 474.70,704.80 C475.88,704.70 477.38,703.85 478.90,702.80 C480.42,701.75 482.17,699.80 483.80,698.50 C485.43,697.20 487.07,695.88 488.70,695.00 C490.33,694.12 491.98,693.68 493.60,693.20 C495.22,692.72 496.62,692.52 498.40,692.10 C500.18,691.68 502.33,691.20 504.30,690.70 C506.27,690.20 508.42,689.68 510.20,689.10 C511.98,688.52 513.38,687.58 515.00,687.20 C516.62,686.82 518.43,687.35 519.90,686.80 C521.37,686.25 522.50,684.97 523.80,683.90 C525.10,682.83 526.23,681.38 527.70,680.40 C529.17,679.42 530.97,679.22 532.60,678.00 C534.23,676.78 535.87,674.73 537.50,673.10 C539.13,671.47 540.93,669.07 542.40,668.20 C543.87,667.33 545.00,667.80 546.30,667.90 C547.60,668.00 548.73,669.55 550.20,668.80 C551.67,668.05 553.47,665.22 555.10,663.40 C556.73,661.58 558.38,659.70 560.00,657.90 C561.62,656.10 563.18,654.45 564.80,652.60 C566.42,650.75 568.18,648.42 569.70,646.80 C571.22,645.18 572.38,643.72 573.90,642.90 C575.42,642.08 577.17,642.33 578.80,641.90 C580.43,641.47 581.92,641.02 583.70,640.30 C585.48,639.58 587.72,638.80 589.50,637.60 C591.28,636.40 592.77,634.25 594.40,633.10 C596.03,631.95 597.67,632.17 599.30,630.70 C600.93,629.23 602.57,626.35 604.20,624.30 C605.83,622.25 607.47,620.28 609.10,618.40 C610.73,616.52 612.38,614.47 614.00,613.00 C615.62,611.53 617.18,610.38 618.80,609.60 C620.42,608.82 622.07,608.72 623.70,608.30 C625.33,607.88 626.97,607.50 628.60,607.10 C630.23,606.70 631.87,606.13 633.50,605.90 C635.13,605.67 636.78,605.73 638.40,605.70 C640.02,605.67 641.58,605.85 643.20,605.70 C644.82,605.55 646.47,605.22 648.10,604.80 C649.73,604.38 651.37,603.33 653.00,603.20 C654.63,603.07 656.43,603.73 657.90,604.00 C659.37,604.27 660.50,604.42 661.80,604.80 C663.10,605.18 664.52,605.50 665.70,606.30 C666.88,607.10 667.55,608.82 668.90,609.60 C670.25,610.38 672.17,610.43 673.80,611.00 C675.43,611.57 677.07,612.67 678.70,613.00 C680.33,613.33 682.13,612.58 683.60,613.00 C685.07,613.42 686.05,614.85 687.50,615.50 C688.95,616.15 690.68,616.48 692.30,616.90 C693.92,617.32 695.57,617.48 697.20,618.00 C698.83,618.52 700.47,619.28 702.10,620.00 C703.73,620.72 705.37,621.48 707.00,622.30 C708.63,623.12 710.27,623.98 711.90,624.90 C713.53,625.82 715.33,626.60 716.80,627.80 C718.27,629.00 719.57,630.73 720.70,632.10 C721.83,633.47 722.47,634.77 723.60,636.00 C724.73,637.23 726.03,638.27 727.50,639.50 C728.97,640.73 730.77,641.87 732.40,643.40 C734.03,644.93 736.03,647.47 737.30,648.70 C738.57,649.93 738.95,649.82 740.00,650.80 C741.05,651.78 742.38,653.20 743.60,654.60 C744.82,656.00 746.08,657.75 747.30,659.20 C748.52,660.65 749.68,662.08 750.90,663.30 C752.12,664.52 753.38,665.52 754.60,666.50 C755.82,667.48 756.98,668.52 758.20,669.20 C759.42,669.88 760.68,670.37 761.90,670.60 C763.12,670.83 764.28,670.75 765.50,670.60 C766.72,670.45 767.98,670.27 769.20,669.70 C770.42,669.13 771.58,668.12 772.80,667.20 C774.02,666.28 775.43,665.05 776.50,664.20 C777.57,663.35 778.22,662.45 779.20,662.10 C780.18,661.75 781.33,661.60 782.40,662.10 C783.47,662.60 784.47,664.07 785.60,665.10 C786.73,666.13 787.98,667.17 789.20,668.30 C790.42,669.43 791.68,670.77 792.90,671.90 C794.12,673.03 795.90,674.57 796.50,675.10" fill="none" stroke="#0000ff" stroke-width="1.15" stroke-linejoin="round" />
<g shape-rendering="crispEdges">
<rect x="3" y="659" width="936" height="1" fill="#000"/>
<rect x="939" y="48" width="1" height="291" fill="#000"/>
<rect x="940" y="87" width="8" height="1" fill="#000"/>
<rect x="940" y="150" width="8" height="1" fill="#000"/>
<rect x="940" y="213" width="8" height="1" fill="#000"/>
<rect x="940" y="276" width="8" height="1" fill="#000"/>
<rect x="940" y="338" width="8" height="1" fill="#000"/>
<rect x="7" y="346" width="925" height="1" fill="#000"/>
<rect x="116" y="347" width="1" height="8" fill="#000"/>
<rect x="340" y="347" width="1" height="8" fill="#000"/>
<rect x="563" y="347" width="1" height="8" fill="#000"/>
<rect x="787" y="347" width="1" height="8" fill="#000"/>
<rect x="939" y="392" width="1" height="155" fill="#000"/>
<rect x="940" y="451" width="8" height="1" fill="#000"/>
<rect x="940" y="510" width="8" height="1" fill="#000"/>
<rect x="7" y="554" width="925" height="1" fill="#000"/>
<rect x="939" y="600" width="1" height="137" fill="#000"/>
<rect x="940" y="628" width="8" height="1" fill="#000"/>
<rect x="940" y="659" width="8" height="1" fill="#000"/>
<rect x="940" y="691" width="8" height="1" fill="#000"/>
<rect x="940" y="722" width="8" height="1" fill="#000"/>
<rect x="7" y="743" width="925" height="1" fill="#000"/>
</g>
<text x="469.5" y="19" font-family="Liberation Sans, sans-serif" font-size="20" font-weight="bold" text-anchor="middle">KGHM</text>
<text x="953" y="92" font-family="Liberation Sans, sans-serif" font-size="12.7">90,00</text>
<text x="953" y="155" font-family="Liberation Sans, sans-serif" font-size="12.7">80,00</text>
<text x="953" y="218" font-family="Liberation Sans, sans-serif" font-size="12.7">70,00</text>
<text x="953" y="281" font-family="Liberation Sans, sans-serif" font-size="12.7">60,00</text>
<text x="953" y="343" font-family="Liberation Sans, sans-serif" font-size="12.7">50,00</text>
<text x="116.5" y="369" font-family="Liberation Sans, sans-serif" font-size="12.7" text-anchor="middle">2016-02-05</text>
<text x="340.5" y="369" font-family="Liberation Sans, sans-serif" font-size="12.7" text-anchor="middle">2016-04-19</text>
<text x="563.5" y="369" font-family="Liberation Sans, sans-serif" font-size="12.7" text-anchor="middle">2016-06-30</text>
<text x="787.5" y="369" font-family="Liberation Sans, sans-serif" font-size="12.7" text-anchor="middle">2016-09-09</text>
<text x="952.5" y="456" font-family="Liberation Sans, sans-serif" font-size="12.7">2 000 000</text>
<text x="952.5" y="515" font-family="Liberation Sans, sans-serif" font-size="12.7">1 000 000</text>
<text x="953" y="633" font-family="Liberation Sans, sans-serif" font-size="12.7">2,00</text>
<text x="953" y="664" font-family="Liberation Sans, sans-serif" font-size="12.7">0,00</text>
<text x="953" y="696" font-family="Liberation Sans, sans-serif" font-size="12.7">-2,00</text>
<text x="953" y="727" font-family="Liberation Sans, sans-serif" font-size="12.7">-4,00</text>
<text x="3" y="571" font-family="Liberation Sans, sans-serif" font-size="13" font-weight="bold">MACD</text>
<text x="1018" y="761" font-family="Liberation Sans, sans-serif" font-size="11.5" text-anchor="end" textLength="397" lengthAdjust="spacingAndGlyphs">Wykres został stworzony za pomocą programu PowerTrader (www.powertrader.pl)</text>
</svg>
</body></html>
